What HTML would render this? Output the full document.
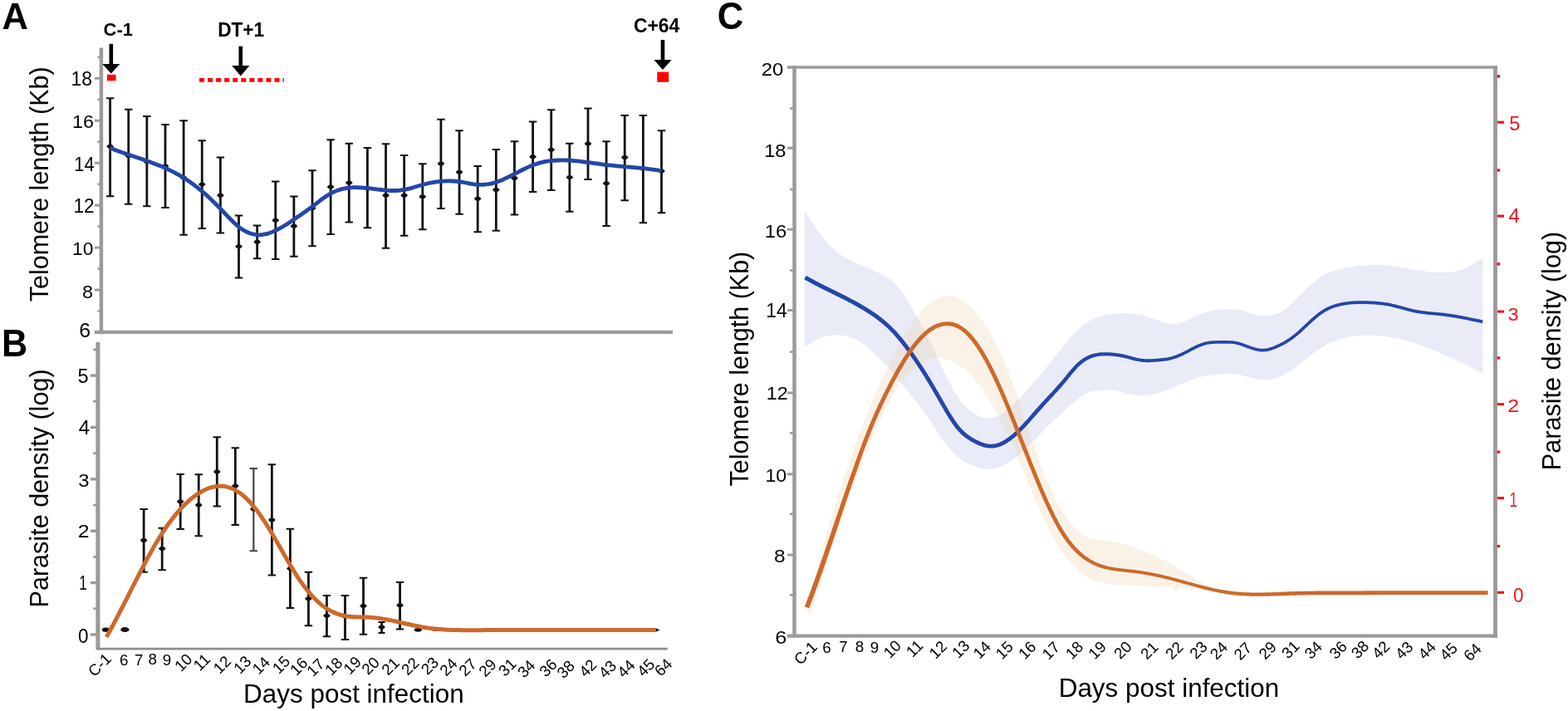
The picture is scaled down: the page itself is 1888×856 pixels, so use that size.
<!DOCTYPE html>
<html lang="en">
<head>
<meta charset="utf-8">
<title>Telomere length and parasite density</title>
<style>
html,body{margin:0;padding:0;background:#fff;}
body{width:1888px;height:856px;overflow:hidden;}
svg{display:block;}
text{font-family:"Liberation Sans",Arial,Helvetica,sans-serif;}
.b{font-weight:bold;}
.ax{stroke:#9a9a98;fill:none;}
.eb{stroke:#111;fill:none;}
</style>
</head>
<body>
<svg width="1888" height="856" viewBox="0 0 1888 856" role="img" aria-label="Telomere length and parasite density over days post infection">
<rect width="1888" height="856" fill="#fff"/>
<g id="panelA">
<path class="ax" stroke-width="4.5" d="M121.9 57.5V402.2"/>
<path class="ax" stroke-width="4.4" d="M114 399.9H810"/>
<path class="ax" stroke-width="3" d="M114 94.3H120"/>
<path class="ax" stroke-width="3" d="M114 145.25H120"/>
<path class="ax" stroke-width="3" d="M114 196.2H120"/>
<path class="ax" stroke-width="3" d="M114 247.15H120"/>
<path class="ax" stroke-width="3" d="M114 298.1H120"/>
<path class="ax" stroke-width="3" d="M114 349.05H120"/>
<path class="ax" stroke-width="2.5" d="M117.5 68.82H120"/>
<path class="ax" stroke-width="2.5" d="M117.5 119.77H120"/>
<path class="ax" stroke-width="2.5" d="M117.5 170.72H120"/>
<path class="ax" stroke-width="2.5" d="M117.5 221.68H120"/>
<path class="ax" stroke-width="2.5" d="M117.5 272.62H120"/>
<path class="ax" stroke-width="2.5" d="M117.5 323.57H120"/>
<path class="ax" stroke-width="2.5" d="M117.5 374.53H120"/>
<text transform="translate(85.58 103.37) scale(0.9920 1)" font-size="23.10">18</text>
<text transform="translate(87.05 154.27) scale(1.0156 1)" font-size="22.96">16</text>
<text transform="translate(89.37 206.40) scale(0.9168 1)" font-size="23.77">14</text>
<text transform="translate(88.39 255.90) scale(0.9766 1)" font-size="23.29">12</text>
<text transform="translate(87.09 306.67) scale(0.9993 1)" font-size="22.82">10</text>
<text transform="translate(98.95 358.87) scale(1.0194 1)" font-size="22.96">8</text>
<text transform="translate(95.35 405.76) scale(1.0480 1)" font-size="23.80">6</text>
<text transform="translate(57.72 363.21) rotate(-90) scale(0.9729 1)" font-size="31.34">Telomere length (Kb)</text>
<path class="eb" stroke-width="2.8" d="M132.6 118.25V236.25"/>
<path class="eb" stroke-width="2.2" d="M127.9 118.25h9.4M127.9 236.25h9.4"/>
<path d="M128.2 176.25l2.2 -2.3h4.4l2.2 2.3l-2.2 2.3h-4.4z" fill="#111"/>
<path class="eb" stroke-width="2.8" d="M154.73 131.75V245.75"/>
<path class="eb" stroke-width="2.2" d="M150.03 131.75h9.4M150.03 245.75h9.4"/>
<path d="M150.33 187.5l2.2 -2.3h4.4l2.2 2.3l-2.2 2.3h-4.4z" fill="#111"/>
<path class="eb" stroke-width="2.8" d="M176.86 140V248.25"/>
<path class="eb" stroke-width="2.2" d="M172.16 140h9.4M172.16 248.25h9.4"/>
<path d="M172.46 194.5l2.2 -2.3h4.4l2.2 2.3l-2.2 2.3h-4.4z" fill="#111"/>
<path class="eb" stroke-width="2.8" d="M198.99 150V250"/>
<path class="eb" stroke-width="2.2" d="M194.29 150h9.4M194.29 250h9.4"/>
<path d="M194.59 200l2.2 -2.3h4.4l2.2 2.3l-2.2 2.3h-4.4z" fill="#111"/>
<path class="eb" stroke-width="2.8" d="M221.12 145.25V282.75"/>
<path class="eb" stroke-width="2.2" d="M216.42 145.25h9.4M216.42 282.75h9.4"/>
<path d="M216.72 214l2.2 -2.3h4.4l2.2 2.3l-2.2 2.3h-4.4z" fill="#111"/>
<path class="eb" stroke-width="2.8" d="M243.25 169.25V275"/>
<path class="eb" stroke-width="2.2" d="M238.55 169.25h9.4M238.55 275h9.4"/>
<path d="M238.85 222l2.2 -2.3h4.4l2.2 2.3l-2.2 2.3h-4.4z" fill="#111"/>
<path class="eb" stroke-width="2.8" d="M265.38 189.5V280.5"/>
<path class="eb" stroke-width="2.2" d="M260.68 189.5h9.4M260.68 280.5h9.4"/>
<path d="M260.98 235.25l2.2 -2.3h4.4l2.2 2.3l-2.2 2.3h-4.4z" fill="#111"/>
<path class="eb" stroke-width="2.8" d="M287.51 259.5V334.5"/>
<path class="eb" stroke-width="2.2" d="M282.81 259.5h9.4M282.81 334.5h9.4"/>
<path d="M283.11 296.75l2.2 -2.3h4.4l2.2 2.3l-2.2 2.3h-4.4z" fill="#111"/>
<path class="eb" stroke-width="2.8" d="M309.64 271.5V311.25"/>
<path class="eb" stroke-width="2.2" d="M304.94 271.5h9.4M304.94 311.25h9.4"/>
<path d="M305.24 291.25l2.2 -2.3h4.4l2.2 2.3l-2.2 2.3h-4.4z" fill="#111"/>
<path class="eb" stroke-width="2.8" d="M331.77 218.5V312"/>
<path class="eb" stroke-width="2.2" d="M327.07 218.5h9.4M327.07 312h9.4"/>
<path d="M327.37 265.25l2.2 -2.3h4.4l2.2 2.3l-2.2 2.3h-4.4z" fill="#111"/>
<path class="eb" stroke-width="2.8" d="M353.9 236.5V308.75"/>
<path class="eb" stroke-width="2.2" d="M349.2 236.5h9.4M349.2 308.75h9.4"/>
<path d="M349.5 272.25l2.2 -2.3h4.4l2.2 2.3l-2.2 2.3h-4.4z" fill="#111"/>
<path class="eb" stroke-width="2.8" d="M376.03 205.25V296.25"/>
<path class="eb" stroke-width="2.2" d="M371.33 205.25h9.4M371.33 296.25h9.4"/>
<path d="M371.63 250.6l2.2 -2.3h4.4l2.2 2.3l-2.2 2.3h-4.4z" fill="#111"/>
<path class="eb" stroke-width="2.8" d="M398.16 168.25V282"/>
<path class="eb" stroke-width="2.2" d="M393.46 168.25h9.4M393.46 282h9.4"/>
<path d="M393.76 225l2.2 -2.3h4.4l2.2 2.3l-2.2 2.3h-4.4z" fill="#111"/>
<path class="eb" stroke-width="2.8" d="M420.29 172.75V267.5"/>
<path class="eb" stroke-width="2.2" d="M415.59 172.75h9.4M415.59 267.5h9.4"/>
<path d="M415.89 220l2.2 -2.3h4.4l2.2 2.3l-2.2 2.3h-4.4z" fill="#111"/>
<path class="eb" stroke-width="2.8" d="M442.42 178V274.25"/>
<path class="eb" stroke-width="2.2" d="M437.72 178h9.4M437.72 274.25h9.4"/>
<path d="M438.02 227l2.2 -2.3h4.4l2.2 2.3l-2.2 2.3h-4.4z" fill="#111"/>
<path class="eb" stroke-width="2.8" d="M464.55 173.25V298.75"/>
<path class="eb" stroke-width="2.2" d="M459.85 173.25h9.4M459.85 298.75h9.4"/>
<path d="M460.15 235.25l2.2 -2.3h4.4l2.2 2.3l-2.2 2.3h-4.4z" fill="#111"/>
<path class="eb" stroke-width="2.8" d="M486.68 187V283.75"/>
<path class="eb" stroke-width="2.2" d="M481.98 187h9.4M481.98 283.75h9.4"/>
<path d="M482.28 235.25l2.2 -2.3h4.4l2.2 2.3l-2.2 2.3h-4.4z" fill="#111"/>
<path class="eb" stroke-width="2.8" d="M508.81 197.25V276.25"/>
<path class="eb" stroke-width="2.2" d="M504.11 197.25h9.4M504.11 276.25h9.4"/>
<path d="M504.41 236.75l2.2 -2.3h4.4l2.2 2.3l-2.2 2.3h-4.4z" fill="#111"/>
<path class="eb" stroke-width="2.8" d="M530.94 143.75V251"/>
<path class="eb" stroke-width="2.2" d="M526.24 143.75h9.4M526.24 251h9.4"/>
<path d="M526.54 197l2.2 -2.3h4.4l2.2 2.3l-2.2 2.3h-4.4z" fill="#111"/>
<path class="eb" stroke-width="2.8" d="M553.07 157.25V257.75"/>
<path class="eb" stroke-width="2.2" d="M548.37 157.25h9.4M548.37 257.75h9.4"/>
<path d="M548.67 207.25l2.2 -2.3h4.4l2.2 2.3l-2.2 2.3h-4.4z" fill="#111"/>
<path class="eb" stroke-width="2.8" d="M575.2 200V279.25"/>
<path class="eb" stroke-width="2.2" d="M570.5 200h9.4M570.5 279.25h9.4"/>
<path d="M570.8 239.25l2.2 -2.3h4.4l2.2 2.3l-2.2 2.3h-4.4z" fill="#111"/>
<path class="eb" stroke-width="2.8" d="M597.33 180V277.75"/>
<path class="eb" stroke-width="2.2" d="M592.63 180h9.4M592.63 277.75h9.4"/>
<path d="M592.93 228.5l2.2 -2.3h4.4l2.2 2.3l-2.2 2.3h-4.4z" fill="#111"/>
<path class="eb" stroke-width="2.8" d="M619.46 170.25V258.5"/>
<path class="eb" stroke-width="2.2" d="M614.76 170.25h9.4M614.76 258.5h9.4"/>
<path d="M615.06 214.5l2.2 -2.3h4.4l2.2 2.3l-2.2 2.3h-4.4z" fill="#111"/>
<path class="eb" stroke-width="2.8" d="M641.59 146.5V231"/>
<path class="eb" stroke-width="2.2" d="M636.89 146.5h9.4M636.89 231h9.4"/>
<path d="M637.19 188.75l2.2 -2.3h4.4l2.2 2.3l-2.2 2.3h-4.4z" fill="#111"/>
<path class="eb" stroke-width="2.8" d="M663.72 132.25V229"/>
<path class="eb" stroke-width="2.2" d="M659.02 132.25h9.4M659.02 229h9.4"/>
<path d="M659.32 180.25l2.2 -2.3h4.4l2.2 2.3l-2.2 2.3h-4.4z" fill="#111"/>
<path class="eb" stroke-width="2.8" d="M685.85 172.75V254.75"/>
<path class="eb" stroke-width="2.2" d="M681.15 172.75h9.4M681.15 254.75h9.4"/>
<path d="M681.45 213.5l2.2 -2.3h4.4l2.2 2.3l-2.2 2.3h-4.4z" fill="#111"/>
<path class="eb" stroke-width="2.8" d="M707.98 130.5V216"/>
<path class="eb" stroke-width="2.2" d="M703.28 130.5h9.4M703.28 216h9.4"/>
<path d="M703.58 173l2.2 -2.3h4.4l2.2 2.3l-2.2 2.3h-4.4z" fill="#111"/>
<path class="eb" stroke-width="2.8" d="M730.11 170.25V272"/>
<path class="eb" stroke-width="2.2" d="M725.41 170.25h9.4M725.41 272h9.4"/>
<path d="M725.71 220.75l2.2 -2.3h4.4l2.2 2.3l-2.2 2.3h-4.4z" fill="#111"/>
<path class="eb" stroke-width="2.8" d="M752.24 139V241.25"/>
<path class="eb" stroke-width="2.2" d="M747.54 139h9.4M747.54 241.25h9.4"/>
<path d="M747.84 189.5l2.2 -2.3h4.4l2.2 2.3l-2.2 2.3h-4.4z" fill="#111"/>
<path class="eb" stroke-width="2.8" d="M774.37 139V268.25"/>
<path class="eb" stroke-width="2.2" d="M769.67 139h9.4M769.67 268.25h9.4"/>
<path d="M769.97 203l2.2 -2.3h4.4l2.2 2.3l-2.2 2.3h-4.4z" fill="#111"/>
<path class="eb" stroke-width="2.8" d="M796.5 157.25V256.25"/>
<path class="eb" stroke-width="2.2" d="M791.8 157.25h9.4M791.8 256.25h9.4"/>
<path d="M792.1 206l2.2 -2.3h4.4l2.2 2.3l-2.2 2.3h-4.4z" fill="#111"/>
<path d="M132.6 178C133.6 178.4 136.59 179.62 138.58 180.39C140.57 181.16 142.57 181.9 144.56 182.63C146.56 183.36 148.55 184.06 150.54 184.76C152.54 185.45 154.53 186.13 156.52 186.8C158.52 187.47 160.51 188.14 162.51 188.8C164.5 189.47 166.49 190.13 168.49 190.8C170.48 191.48 172.47 192.15 174.47 192.84C176.46 193.53 178.45 194.22 180.45 194.94C182.44 195.66 184.44 196.39 186.43 197.15C188.42 197.92 190.42 198.7 192.41 199.51C194.4 200.33 196.4 201.17 198.39 202.05C200.39 202.94 202.38 203.85 204.37 204.81C206.37 205.78 208.36 206.78 210.35 207.83C212.35 208.89 214.34 209.98 216.34 211.14C218.33 212.3 220.32 213.51 222.32 214.79C224.31 216.06 226.3 217.4 228.3 218.79C230.29 220.18 232.28 221.63 234.28 223.14C236.27 224.65 238.27 226.22 240.26 227.84C242.25 229.47 244.25 231.15 246.24 232.88C248.23 234.62 250.23 236.41 252.22 238.25C254.22 240.09 256.21 241.99 258.2 243.94C260.2 245.9 262.19 247.91 264.18 249.96C266.18 252.01 268.17 254.15 270.16 256.24C272.16 258.34 274.15 260.5 276.15 262.53C278.14 264.56 280.13 266.59 282.13 268.43C284.12 270.27 286.11 272.02 288.11 273.55C290.1 275.08 292.1 276.43 294.09 277.59C296.08 278.75 298.08 279.72 300.07 280.49C302.06 281.26 304.06 281.84 306.05 282.23C308.05 282.61 310.04 282.79 312.03 282.79C314.03 282.79 316.02 282.58 318.01 282.24C320.01 281.89 322 281.36 323.99 280.72C325.99 280.08 327.98 279.28 329.98 278.4C331.97 277.52 333.96 276.5 335.96 275.43C337.95 274.36 339.94 273.18 341.94 271.97C343.93 270.76 345.93 269.47 347.92 268.17C349.91 266.88 351.91 265.54 353.9 264.2C355.89 262.87 357.89 261.53 359.88 260.18C361.87 258.82 363.87 257.46 365.86 256.07C367.86 254.68 369.85 253.27 371.84 251.81C373.84 250.36 375.83 248.86 377.82 247.35C379.82 245.83 381.81 244.25 383.81 242.73C385.8 241.22 387.79 239.68 389.79 238.28C391.78 236.87 393.77 235.49 395.77 234.29C397.76 233.09 399.75 232.01 401.75 231.08C403.74 230.15 405.74 229.38 407.73 228.72C409.72 228.05 411.72 227.53 413.71 227.1C415.7 226.67 417.7 226.37 419.69 226.13C421.69 225.9 423.68 225.78 425.67 225.71C427.67 225.64 429.66 225.67 431.65 225.73C433.65 225.79 435.64 225.93 437.64 226.08C439.63 226.24 441.62 226.45 443.62 226.67C445.61 226.89 447.6 227.14 449.6 227.39C451.59 227.63 453.58 227.89 455.58 228.13C457.57 228.36 459.57 228.6 461.56 228.8C463.55 228.99 465.55 229.17 467.54 229.28C469.53 229.4 471.53 229.48 473.52 229.49C475.52 229.49 477.51 229.45 479.5 229.31C481.5 229.17 483.49 228.96 485.48 228.65C487.48 228.34 489.47 227.91 491.46 227.43C493.46 226.96 495.45 226.38 497.45 225.8C499.44 225.23 501.43 224.59 503.43 224C505.42 223.4 507.41 222.79 509.41 222.25C511.4 221.7 513.4 221.2 515.39 220.74C517.38 220.29 519.38 219.89 521.37 219.53C523.36 219.18 525.36 218.88 527.35 218.63C529.35 218.39 531.34 218.19 533.33 218.06C535.33 217.93 537.32 217.85 539.31 217.84C541.31 217.82 543.3 217.87 545.29 217.98C547.29 218.09 549.28 218.26 551.28 218.5C553.27 218.74 555.26 219.07 557.26 219.41C559.25 219.75 561.24 220.17 563.24 220.52C565.23 220.88 567.23 221.28 569.22 221.56C571.21 221.85 573.21 222.11 575.2 222.23C577.19 222.36 579.19 222.39 581.18 222.31C583.17 222.23 585.17 222.04 587.16 221.75C589.16 221.46 591.15 221.06 593.14 220.56C595.14 220.07 597.13 219.46 599.12 218.77C601.12 218.08 603.11 217.28 605.11 216.43C607.1 215.58 609.09 214.64 611.09 213.68C613.08 212.72 615.07 211.7 617.07 210.68C619.06 209.66 621.05 208.6 623.05 207.57C625.04 206.54 627.04 205.49 629.03 204.5C631.02 203.51 633.02 202.52 635.01 201.62C637 200.72 639 199.85 640.99 199.09C642.99 198.32 644.98 197.63 646.97 197.02C648.97 196.4 650.96 195.88 652.95 195.41C654.95 194.95 656.94 194.57 658.94 194.24C660.93 193.91 662.92 193.66 664.92 193.45C666.91 193.25 668.9 193.1 670.9 193.01C672.89 192.91 674.88 192.87 676.88 192.87C678.87 192.87 680.87 192.91 682.86 192.99C684.85 193.07 686.85 193.19 688.84 193.34C690.83 193.48 692.83 193.67 694.82 193.87C696.82 194.06 698.81 194.29 700.8 194.53C702.8 194.77 704.79 195.04 706.78 195.3C708.78 195.57 710.77 195.85 712.76 196.13C714.76 196.41 716.75 196.69 718.75 196.97C720.74 197.25 722.73 197.53 724.73 197.79C726.72 198.05 728.71 198.31 730.71 198.55C732.7 198.78 734.7 199 736.69 199.21C738.68 199.42 740.68 199.62 742.67 199.8C744.66 199.99 746.66 200.17 748.65 200.34C750.65 200.52 752.64 200.69 754.63 200.86C756.63 201.03 758.62 201.2 760.61 201.37C762.61 201.55 764.6 201.72 766.59 201.9C768.59 202.09 770.58 202.28 772.58 202.48C774.57 202.69 776.56 202.9 778.56 203.14C780.55 203.37 782.54 203.61 784.54 203.88C786.53 204.15 788.53 204.43 790.52 204.74C792.51 205.06 795.5 205.58 796.5 205.75" fill="none" stroke="#2546a8" stroke-width="4.8" stroke-linejoin="round"/>
<path d="M133.8 52.8V79" stroke="#000" stroke-width="4.6" fill="none"/>
<path d="M123.2 77L144.4 77L133.8 88.4Z" fill="#000"/>
<path d="M289.8 55.6V81" stroke="#000" stroke-width="4.6" fill="none"/>
<path d="M279.2 79L300.4 79L289.8 91.5Z" fill="#000"/>
<path d="M798 48V74" stroke="#000" stroke-width="4.6" fill="none"/>
<path d="M787.4 72L808.6 72L798 84Z" fill="#000"/>
<text transform="translate(124.62 42.98) scale(0.9798 1)" font-size="22.39" class="b">C-1</text>
<text transform="translate(262.13 43.70) scale(0.9546 1)" font-size="23.77" class="b">DT+1</text>
<text transform="translate(762.88 38.97) scale(0.9817 1)" font-size="23.38" class="b">C+64</text>
<rect x="129" y="89.8" width="10.5" height="7.5" fill="#f00"/>
<rect x="791.3" y="86.6" width="13.8" height="12.2" fill="#f00"/>
<path d="M240 96.4H342" stroke="#f00" stroke-width="4.8" stroke-dasharray="6 4.06" fill="none"/>
<text transform="translate(2.41 34.60) scale(0.9636 1)" font-size="45.07" class="b">A</text>
</g>
<g id="panelB">
<path class="ax" stroke-width="5" d="M117.9 411.9V782.3"/>
<path stroke="#8e8e8c" fill="none" stroke-width="2.9" d="M116 781.1H803.8"/>
<path class="ax" stroke-width="3.4" d="M109 764H116.5"/>
<path class="ax" stroke-width="3.4" d="M109 701.62H116.5"/>
<path class="ax" stroke-width="3.4" d="M109 639.24H116.5"/>
<path class="ax" stroke-width="3.4" d="M109 576.86H116.5"/>
<path class="ax" stroke-width="3.4" d="M109 514.48H116.5"/>
<path class="ax" stroke-width="3.4" d="M109 452.1H116.5"/>
<path class="ax" stroke-width="2.8" d="M112.2 732.81H116.5"/>
<path class="ax" stroke-width="2.8" d="M112.2 670.43H116.5"/>
<path class="ax" stroke-width="2.8" d="M112.2 608.05H116.5"/>
<path class="ax" stroke-width="2.8" d="M112.2 545.67H116.5"/>
<path class="ax" stroke-width="2.8" d="M112.2 483.29H116.5"/>
<path class="ax" stroke-width="2.8" d="M112.2 420.91H116.5"/>
<text transform="translate(93.46 461.27) scale(1.0126 1)" font-size="23.29">5</text>
<text transform="translate(94.82 523.20) scale(1.0227 1)" font-size="23.62">4</text>
<text transform="translate(94.35 585.57) scale(1.0362 1)" font-size="22.96">3</text>
<text transform="translate(93.86 647.00) scale(1.1003 1)" font-size="22.57">2</text>
<text transform="translate(95.31 710.40) scale(0.7435 1)" font-size="23.19">1</text>
<text transform="translate(94.10 774.27) scale(0.9623 1)" font-size="23.38">0</text>
<text transform="translate(58.18 731.45) rotate(-90) scale(0.9560 1)" font-size="31.98">Parasite density (log)</text>
<path stroke="#111" fill="none" stroke-width="2.8" d="M173.16 613V688.75"/>
<path stroke="#111" fill="none" stroke-width="2.2" d="M168.46 613h9.4M168.46 688.75h9.4"/>
<path d="M168.76 650.5l2.2 -2.3h4.4l2.2 2.3l-2.2 2.3h-4.4z" fill="#111"/>
<path stroke="#111" fill="none" stroke-width="2.8" d="M195.19 635.75V686.25"/>
<path stroke="#111" fill="none" stroke-width="2.2" d="M190.49 635.75h9.4M190.49 686.25h9.4"/>
<path d="M190.79 660.5l2.2 -2.3h4.4l2.2 2.3l-2.2 2.3h-4.4z" fill="#111"/>
<path stroke="#111" fill="none" stroke-width="2.8" d="M217.22 571V637"/>
<path stroke="#111" fill="none" stroke-width="2.2" d="M212.52 571h9.4M212.52 637h9.4"/>
<path d="M212.82 603.75l2.2 -2.3h4.4l2.2 2.3l-2.2 2.3h-4.4z" fill="#111"/>
<path stroke="#111" fill="none" stroke-width="2.8" d="M239.25 571.25V645.25"/>
<path stroke="#111" fill="none" stroke-width="2.2" d="M234.55 571.25h9.4M234.55 645.25h9.4"/>
<path d="M234.85 608l2.2 -2.3h4.4l2.2 2.3l-2.2 2.3h-4.4z" fill="#111"/>
<path stroke="#111" fill="none" stroke-width="2.8" d="M261.28 526.25V609.5"/>
<path stroke="#111" fill="none" stroke-width="2.2" d="M256.58 526.25h9.4M256.58 609.5h9.4"/>
<path d="M256.88 568l2.2 -2.3h4.4l2.2 2.3l-2.2 2.3h-4.4z" fill="#111"/>
<path stroke="#111" fill="none" stroke-width="2.8" d="M283.31 539.25V632"/>
<path stroke="#111" fill="none" stroke-width="2.2" d="M278.61 539.25h9.4M278.61 632h9.4"/>
<path d="M278.91 585l2.2 -2.3h4.4l2.2 2.3l-2.2 2.3h-4.4z" fill="#111"/>
<path stroke="#444" fill="none" stroke-width="2.2" d="M305.34 564V663.25"/>
<path stroke="#444" fill="none" stroke-width="2.2" d="M300.64 564h9.4M300.64 663.25h9.4"/>
<path d="M300.94 613l2.2 -2.3h4.4l2.2 2.3l-2.2 2.3h-4.4z" fill="#111"/>
<path stroke="#111" fill="none" stroke-width="2.8" d="M327.37 559.25V692.5"/>
<path stroke="#111" fill="none" stroke-width="2.2" d="M322.67 559.25h9.4M322.67 692.5h9.4"/>
<path d="M322.97 626l2.2 -2.3h4.4l2.2 2.3l-2.2 2.3h-4.4z" fill="#111"/>
<path stroke="#111" fill="none" stroke-width="2.8" d="M349.4 636.75V732"/>
<path stroke="#111" fill="none" stroke-width="2.2" d="M344.7 636.75h9.4M344.7 732h9.4"/>
<path d="M345 684.5l2.2 -2.3h4.4l2.2 2.3l-2.2 2.3h-4.4z" fill="#111"/>
<path stroke="#111" fill="none" stroke-width="2.8" d="M371.43 688.75V753.25"/>
<path stroke="#111" fill="none" stroke-width="2.2" d="M366.73 688.75h9.4M366.73 753.25h9.4"/>
<path d="M367.03 720.75l2.2 -2.3h4.4l2.2 2.3l-2.2 2.3h-4.4z" fill="#111"/>
<path stroke="#111" fill="none" stroke-width="2.8" d="M393.46 717V766.25"/>
<path stroke="#111" fill="none" stroke-width="2.2" d="M388.76 717h9.4M388.76 766.25h9.4"/>
<path d="M389.06 741.25l2.2 -2.3h4.4l2.2 2.3l-2.2 2.3h-4.4z" fill="#111"/>
<path stroke="#111" fill="none" stroke-width="2.8" d="M415.49 717V770"/>
<path stroke="#111" fill="none" stroke-width="2.2" d="M410.79 717h9.4M410.79 770h9.4"/>
<path d="M411.09 742l2.2 -2.3h4.4l2.2 2.3l-2.2 2.3h-4.4z" fill="#111"/>
<path stroke="#111" fill="none" stroke-width="2.8" d="M437.52 695.75V763.75"/>
<path stroke="#111" fill="none" stroke-width="2.2" d="M432.82 695.75h9.4M432.82 763.75h9.4"/>
<path d="M433.12 729.5l2.2 -2.3h4.4l2.2 2.3l-2.2 2.3h-4.4z" fill="#111"/>
<path stroke="#111" fill="none" stroke-width="2.8" d="M459.55 749V762"/>
<path stroke="#111" fill="none" stroke-width="2.2" d="M455.55 749h8M455.55 762h8"/>
<path d="M455.15 755l2.2 -2.3h4.4l2.2 2.3l-2.2 2.3h-4.4z" fill="#111"/>
<path stroke="#111" fill="none" stroke-width="2.8" d="M481.58 701V757.5"/>
<path stroke="#111" fill="none" stroke-width="2.2" d="M476.88 701h9.4M476.88 757.5h9.4"/>
<path d="M477.18 728.75l2.2 -2.3h4.4l2.2 2.3l-2.2 2.3h-4.4z" fill="#111"/>
<ellipse cx="127.5" cy="758.2" rx="4.6" ry="2.6" fill="#111"/>
<ellipse cx="150.4" cy="758" rx="5.2" ry="3" fill="#111"/>
<ellipse cx="503.3" cy="758.3" rx="4.5" ry="2.4" fill="#111"/>
<path d="M521 759H530" stroke="#333" stroke-width="1.6"/>
<path d="M788.5 755.8L794.5 758.5L788.5 761.2Z" fill="#111"/>
<path d="M128.2 767C129.21 765.17 132.22 759.77 134.23 756.05C136.24 752.33 138.25 748.52 140.27 744.68C142.28 740.84 144.29 736.93 146.3 733C148.31 729.08 150.32 725.11 152.33 721.15C154.34 717.18 156.35 713.19 158.36 709.23C160.38 705.26 162.39 701.29 164.4 697.36C166.41 693.43 168.42 689.51 170.43 685.67C172.44 681.82 174.45 678 176.46 674.26C178.47 670.53 180.49 666.85 182.5 663.28C184.51 659.7 186.52 656.2 188.53 652.82C190.54 649.44 192.55 646.15 194.56 643.01C196.57 639.86 198.58 636.84 200.6 633.95C202.61 631.06 204.62 628.3 206.63 625.66C208.64 623.03 210.65 620.52 212.66 618.14C214.67 615.76 216.68 613.5 218.69 611.37C220.71 609.24 222.72 607.23 224.73 605.34C226.74 603.46 228.75 601.7 230.76 600.06C232.77 598.42 234.78 596.9 236.79 595.51C238.8 594.12 240.81 592.85 242.83 591.73C244.84 590.61 246.85 589.61 248.86 588.77C250.87 587.93 252.88 587.23 254.89 586.68C256.9 586.14 258.91 585.74 260.92 585.52C262.94 585.29 264.95 585.21 266.96 585.32C268.97 585.42 270.98 585.69 272.99 586.14C275 586.6 277.01 587.22 279.02 588.04C281.03 588.86 283.05 589.87 285.06 591.07C287.07 592.27 289.08 593.67 291.09 595.26C293.1 596.85 295.11 598.63 297.12 600.6C299.13 602.57 301.14 604.74 303.16 607.07C305.17 609.39 307.18 611.91 309.19 614.56C311.2 617.2 313.21 620.02 315.22 622.95C317.23 625.88 319.24 628.95 321.25 632.12C323.27 635.28 325.28 638.58 327.29 641.93C329.3 645.29 331.31 648.77 333.32 652.25C335.33 655.73 337.34 659.3 339.35 662.82C341.36 666.34 343.37 669.9 345.39 673.37C347.4 676.83 349.41 680.29 351.42 683.61C353.43 686.92 355.44 690.18 357.45 693.26C359.46 696.34 361.47 699.3 363.48 702.11C365.5 704.92 367.51 707.58 369.52 710.1C371.53 712.61 373.54 714.98 375.55 717.19C377.56 719.41 379.57 721.47 381.58 723.37C383.59 725.27 385.61 727.02 387.62 728.6C389.63 730.19 391.64 731.61 393.65 732.89C395.66 734.17 397.67 735.3 399.68 736.3C401.69 737.3 403.7 738.16 405.72 738.9C407.73 739.64 409.74 740.25 411.75 740.76C413.76 741.26 415.77 741.64 417.78 741.94C419.79 742.25 421.8 742.43 423.81 742.58C425.83 742.73 427.84 742.79 429.85 742.85C431.86 742.91 433.87 742.91 435.88 742.95C437.89 742.98 439.9 742.99 441.91 743.07C443.92 743.14 445.93 743.24 447.95 743.4C449.96 743.56 451.97 743.77 453.98 744.02C455.99 744.27 458 744.56 460.01 744.88C462.02 745.2 464.03 745.57 466.04 745.94C468.06 746.32 470.07 746.73 472.08 747.15C474.09 747.57 476.1 748.02 478.11 748.47C480.12 748.91 482.13 749.38 484.14 749.84C486.15 750.29 488.17 750.76 490.18 751.21C492.19 751.66 494.2 752.12 496.21 752.55C498.22 752.98 500.23 753.41 502.24 753.8C504.25 754.2 506.26 754.58 508.28 754.92C510.29 755.27 512.3 755.58 514.31 755.87C516.32 756.16 518.33 756.42 520.34 756.65C522.35 756.89 524.36 757.09 526.37 757.28C528.39 757.47 530.4 757.63 532.41 757.77C534.42 757.92 536.43 758.04 538.44 758.15C540.45 758.25 542.46 758.34 544.47 758.41C546.48 758.49 548.49 758.55 550.51 758.59C552.52 758.64 554.53 758.67 556.54 758.69C558.55 758.72 560.56 758.73 562.57 758.74C564.58 758.74 566.59 758.74 568.6 758.73C570.62 758.73 572.63 758.72 574.64 758.7C576.65 758.69 578.66 758.67 580.67 758.66C582.68 758.64 584.69 758.62 586.7 758.61C588.71 758.59 590.73 758.57 592.74 758.55C594.75 758.54 596.76 758.52 598.77 758.5C600.78 758.49 602.79 758.47 604.8 758.46C606.81 758.44 608.82 758.43 610.84 758.42C612.85 758.41 612.01 758.38 616.87 758.4C621.73 758.41 622.81 758.48 640 758.5C657.19 758.52 695 758.5 720 758.5C745 758.5 778.33 758.5 790 758.5" fill="none" stroke="#cd692b" stroke-width="5" stroke-linejoin="round"/>
<text transform="translate(119.90 800.50) rotate(-45) scale(1.0000 1) translate(-15.18 6.49)" font-size="18.80">C-1</text>
<text transform="translate(149.25 794.30) rotate(0) scale(1.0000 1) translate(-5.31 6.49)" font-size="18.80">6</text>
<text transform="translate(167.30 794.10) rotate(0) scale(1.0000 1) translate(-5.22 6.49)" font-size="18.80">7</text>
<text transform="translate(183.70 793.70) rotate(0) scale(1.0000 1) translate(-5.26 6.49)" font-size="18.80">8</text>
<text transform="translate(201.00 794.20) rotate(0) scale(1.0000 1) translate(-5.22 6.49)" font-size="18.80">9</text>
<text transform="translate(220.95 797.30) rotate(-45) scale(1.0000 1) translate(-10.81 6.49)" font-size="18.80">10</text>
<text transform="translate(243.00 797.00) rotate(-45) scale(1.0000 1) translate(-10.01 6.49)" font-size="18.80">11</text>
<text transform="translate(267.50 800.00) rotate(-45) scale(1.0000 1) translate(-10.67 6.58)" font-size="18.80">12</text>
<text transform="translate(292.00 800.00) rotate(-45) scale(1.0000 1) translate(-10.76 6.49)" font-size="18.80">13</text>
<text transform="translate(314.50 800.75) rotate(-45) scale(1.0000 1) translate(-10.86 6.49)" font-size="18.80">14</text>
<text transform="translate(338.75 800.00) rotate(-45) scale(1.0000 1) translate(-10.76 6.39)" font-size="18.80">15</text>
<text transform="translate(360.00 802.00) rotate(-45) scale(1.0000 1) translate(-10.76 6.49)" font-size="18.80">16</text>
<text transform="translate(380.00 803.25) rotate(-45) scale(1.0000 1) translate(-10.67 6.49)" font-size="18.80">17</text>
<text transform="translate(402.00 802.00) rotate(-45) scale(1.0000 1) translate(-10.76 6.49)" font-size="18.80">18</text>
<text transform="translate(424.25 800.75) rotate(-45) scale(1.0000 1) translate(-10.72 6.49)" font-size="18.80">19</text>
<text transform="translate(446.25 801.50) rotate(-45) scale(1.0000 1) translate(-10.58 6.49)" font-size="18.80">20</text>
<text transform="translate(470.00 802.00) rotate(-45) scale(1.0000 1) translate(-10.48 6.58)" font-size="18.80">21</text>
<text transform="translate(493.75 802.00) rotate(-45) scale(1.0000 1) translate(-10.43 6.58)" font-size="18.80">22</text>
<text transform="translate(517.50 801.50) rotate(-45) scale(1.0000 1) translate(-10.53 6.49)" font-size="18.80">23</text>
<text transform="translate(540.00 802.75) rotate(-45) scale(1.0000 1) translate(-10.62 6.58)" font-size="18.80">24</text>
<text transform="translate(563.00 803.25) rotate(-45) scale(1.0000 1) translate(-10.43 6.58)" font-size="18.80">27</text>
<text transform="translate(587.00 804.00) rotate(-45) scale(1.0000 1) translate(-10.48 6.49)" font-size="18.80">29</text>
<text transform="translate(610.75 803.25) rotate(-45) scale(1.0000 1) translate(-10.39 6.49)" font-size="18.80">31</text>
<text transform="translate(633.75 805.00) rotate(-45) scale(1.0000 1) translate(-10.53 6.49)" font-size="18.80">34</text>
<text transform="translate(660.00 804.00) rotate(-45) scale(1.0000 1) translate(-10.43 6.49)" font-size="18.80">36</text>
<text transform="translate(681.25 805.75) rotate(-45) scale(1.0000 1) translate(-10.43 6.49)" font-size="18.80">38</text>
<text transform="translate(707.50 804.50) rotate(-45) scale(1.0000 1) translate(-10.15 6.58)" font-size="18.80">42</text>
<text transform="translate(731.25 805.75) rotate(-45) scale(1.0000 1) translate(-10.25 6.49)" font-size="18.80">43</text>
<text transform="translate(753.75 805.00) rotate(-45) scale(1.0000 1) translate(-10.34 6.49)" font-size="18.80">44</text>
<text transform="translate(777.50 804.00) rotate(-45) scale(1.0000 1) translate(-10.25 6.39)" font-size="18.80">45</text>
<text transform="translate(798.75 803.25) rotate(-45) scale(1.0000 1) translate(-10.62 6.49)" font-size="18.80">64</text>
<text transform="translate(293.08 846.18) scale(1.0282 1)" font-size="30.59">Days post infection</text>
<text transform="translate(2.10 429.00) scale(0.9444 1)" font-size="45.65" class="b">B</text>
</g>
<g id="panelC">
<path d="M968.8 253.1C969.64 254.45 972.14 258.56 973.81 261.22C975.48 263.87 977.15 266.48 978.82 269.01C980.49 271.54 982.16 274.01 983.83 276.39C985.5 278.77 987.17 281.09 988.84 283.29C990.51 285.49 992.18 287.61 993.85 289.61C995.52 291.61 997.19 293.52 998.86 295.29C1000.53 297.05 1002.2 298.71 1003.87 300.22C1005.54 301.73 1007.21 303.1 1008.88 304.37C1010.55 305.64 1012.22 306.76 1013.89 307.83C1015.56 308.9 1017.23 309.85 1018.9 310.77C1020.57 311.69 1022.24 312.51 1023.91 313.33C1025.58 314.15 1027.26 314.91 1028.93 315.68C1030.6 316.46 1032.27 317.21 1033.94 317.96C1035.61 318.72 1037.28 319.47 1038.95 320.22C1040.62 320.97 1042.29 321.71 1043.96 322.46C1045.63 323.2 1047.3 323.94 1048.97 324.68C1050.64 325.42 1052.31 326.16 1053.98 326.9C1055.65 327.64 1057.32 328.35 1058.99 329.12C1060.66 329.9 1062.33 330.65 1064 331.54C1065.67 332.43 1067.34 333.36 1069.01 334.47C1070.68 335.57 1072.35 336.76 1074.02 338.19C1075.69 339.61 1077.36 341.19 1079.03 343.02C1080.7 344.84 1082.37 346.92 1084.04 349.14C1085.71 351.37 1087.38 353.83 1089.05 356.37C1090.72 358.91 1092.39 361.64 1094.06 364.41C1095.73 367.17 1097.4 370.07 1099.07 372.96C1100.74 375.84 1102.41 378.8 1104.08 381.73C1105.75 384.65 1107.42 387.53 1109.09 390.51C1110.76 393.49 1112.43 396.44 1114.1 399.59C1115.77 402.75 1117.44 406.03 1119.11 409.44C1120.78 412.84 1122.45 416.44 1124.12 420.03C1125.79 423.63 1127.46 427.35 1129.13 431C1130.8 434.65 1132.47 438.35 1134.14 441.93C1135.81 445.51 1137.48 449.07 1139.15 452.47C1140.82 455.87 1142.49 459.2 1144.17 462.34C1145.84 465.49 1147.51 468.52 1149.18 471.34C1150.85 474.16 1152.52 476.81 1154.19 479.24C1155.86 481.66 1157.53 483.87 1159.2 485.89C1160.87 487.91 1162.54 489.72 1164.21 491.36C1165.88 492.99 1167.55 494.43 1169.22 495.71C1170.89 496.99 1172.56 498.09 1174.23 499.03C1175.9 499.98 1177.57 500.77 1179.24 501.41C1180.91 502.04 1182.58 502.52 1184.25 502.85C1185.92 503.18 1187.59 503.35 1189.26 503.38C1190.93 503.4 1192.6 503.27 1194.27 502.99C1195.94 502.72 1197.61 502.29 1199.28 501.71C1200.95 501.13 1202.62 500.41 1204.29 499.54C1205.96 498.66 1207.63 497.64 1209.3 496.48C1210.97 495.31 1212.64 493.99 1214.31 492.54C1215.98 491.09 1217.65 489.45 1219.32 487.77C1220.99 486.1 1222.66 484.26 1224.33 482.49C1226 480.72 1227.67 478.91 1229.34 477.14C1231.01 475.38 1232.68 473.64 1234.35 471.88C1236.02 470.12 1237.69 468.38 1239.36 466.58C1241.03 464.79 1242.7 462.99 1244.37 461.12C1246.04 459.25 1247.71 457.34 1249.38 455.38C1251.05 453.43 1252.72 451.42 1254.39 449.39C1256.06 447.36 1257.73 445.28 1259.4 443.2C1261.08 441.12 1262.75 439 1264.42 436.88C1266.09 434.77 1267.76 432.63 1269.43 430.5C1271.1 428.38 1272.77 426.24 1274.44 424.12C1276.11 422 1277.78 419.88 1279.45 417.8C1281.12 415.71 1282.79 413.63 1284.46 411.61C1286.13 409.6 1287.8 407.6 1289.47 405.71C1291.14 403.82 1292.81 401.97 1294.48 400.26C1296.15 398.54 1297.82 396.91 1299.49 395.42C1301.16 393.93 1302.83 392.57 1304.5 391.31C1306.17 390.06 1307.84 388.93 1309.51 387.89C1311.18 386.85 1312.85 385.93 1314.52 385.08C1316.19 384.24 1317.86 383.49 1319.53 382.82C1321.2 382.15 1322.87 381.56 1324.54 381.04C1326.21 380.52 1327.88 380.07 1329.55 379.67C1331.22 379.28 1332.89 378.95 1334.56 378.65C1336.23 378.36 1337.9 378.12 1339.57 377.91C1341.24 377.71 1342.91 377.55 1344.58 377.43C1346.25 377.31 1347.92 377.23 1349.59 377.19C1351.26 377.16 1352.93 377.16 1354.6 377.21C1356.27 377.25 1357.94 377.33 1359.61 377.46C1361.28 377.58 1362.95 377.75 1364.62 377.95C1366.29 378.15 1367.96 378.39 1369.63 378.67C1371.3 378.95 1372.97 379.27 1374.64 379.62C1376.31 379.98 1377.99 380.37 1379.66 380.8C1381.33 381.23 1383 381.7 1384.67 382.21C1386.34 382.72 1388.01 383.27 1389.68 383.86C1391.35 384.45 1393.02 385.12 1394.69 385.75C1396.36 386.38 1398.03 387.08 1399.7 387.64C1401.37 388.2 1403.04 388.73 1404.71 389.11C1406.38 389.49 1408.05 389.78 1409.72 389.93C1411.39 390.08 1413.06 390.12 1414.73 390.01C1416.4 389.91 1418.07 389.67 1419.74 389.28C1421.41 388.89 1423.08 388.33 1424.75 387.7C1426.42 387.07 1428.09 386.29 1429.76 385.51C1431.43 384.74 1433.1 383.86 1434.77 383.05C1436.44 382.23 1438.11 381.39 1439.78 380.63C1441.45 379.87 1443.12 379.15 1444.79 378.5C1446.46 377.84 1448.13 377.24 1449.8 376.69C1451.47 376.14 1453.14 375.65 1454.81 375.21C1456.48 374.78 1458.15 374.4 1459.82 374.08C1461.49 373.75 1463.16 373.48 1464.83 373.25C1466.5 373.02 1468.17 372.85 1469.84 372.7C1471.51 372.55 1473.18 372.45 1474.85 372.37C1476.52 372.28 1478.19 372.22 1479.86 372.21C1481.53 372.2 1483.2 372.21 1484.87 372.3C1486.54 372.39 1488.21 372.53 1489.88 372.77C1491.55 373 1493.22 373.31 1494.9 373.73C1496.57 374.14 1498.24 374.69 1499.91 375.23C1501.58 375.78 1503.25 376.43 1504.92 377C1506.59 377.57 1508.26 378.19 1509.93 378.66C1511.6 379.14 1513.27 379.57 1514.94 379.84C1516.61 380.12 1518.28 380.27 1519.95 380.32C1521.62 380.37 1523.29 380.3 1524.96 380.15C1526.63 380 1528.3 379.75 1529.97 379.42C1531.64 379.1 1533.31 378.71 1534.98 378.21C1536.65 377.71 1538.32 377.15 1539.99 376.42C1541.66 375.69 1543.33 374.87 1545 373.83C1546.67 372.79 1548.34 371.59 1550.01 370.2C1551.68 368.81 1553.35 367.13 1555.02 365.49C1556.69 363.85 1558.36 362.06 1560.03 360.38C1561.7 358.7 1563.37 357.05 1565.04 355.43C1566.71 353.8 1568.38 352.22 1570.05 350.65C1571.72 349.08 1573.39 347.54 1575.06 346.01C1576.73 344.48 1578.4 342.95 1580.07 341.48C1581.74 340.01 1583.41 338.53 1585.08 337.19C1586.75 335.84 1588.42 334.54 1590.09 333.41C1591.76 332.27 1593.43 331.27 1595.1 330.37C1596.77 329.47 1598.44 328.71 1600.11 328.02C1601.78 327.32 1603.45 326.74 1605.12 326.2C1606.79 325.66 1608.46 325.21 1610.13 324.77C1611.81 324.34 1613.48 323.97 1615.15 323.59C1616.82 323.22 1618.49 322.87 1620.16 322.54C1621.83 322.21 1623.5 321.9 1625.17 321.61C1626.84 321.32 1628.51 321.05 1630.18 320.8C1631.85 320.55 1633.52 320.32 1635.19 320.12C1636.86 319.92 1638.53 319.74 1640.2 319.58C1641.87 319.43 1643.54 319.3 1645.21 319.19C1646.88 319.09 1648.55 319.01 1650.22 318.96C1651.89 318.91 1653.56 318.88 1655.23 318.89C1656.9 318.89 1658.57 318.93 1660.24 318.99C1661.91 319.05 1663.58 319.15 1665.25 319.27C1666.92 319.39 1668.59 319.54 1670.26 319.71C1671.93 319.88 1673.6 320.07 1675.27 320.28C1676.94 320.49 1678.61 320.73 1680.28 320.97C1681.95 321.21 1683.62 321.47 1685.29 321.73C1686.96 322 1688.63 322.28 1690.3 322.56C1691.97 322.83 1693.64 323.12 1695.31 323.41C1696.98 323.69 1698.65 323.98 1700.32 324.26C1701.99 324.54 1703.66 324.82 1705.33 325.09C1707 325.36 1708.67 325.63 1710.34 325.87C1712.01 326.12 1713.68 326.36 1715.35 326.58C1717.02 326.8 1718.69 327 1720.36 327.18C1722.03 327.36 1723.7 327.52 1725.37 327.65C1727.04 327.78 1728.72 327.89 1730.39 327.97C1732.06 328.05 1733.73 328.1 1735.4 328.1C1737.07 328.11 1738.74 328.1 1740.41 328.03C1742.08 327.96 1743.75 327.85 1745.42 327.68C1747.09 327.51 1748.76 327.29 1750.43 326.99C1752.1 326.69 1753.77 326.34 1755.44 325.89C1757.11 325.45 1758.78 324.93 1760.45 324.31C1762.12 323.7 1763.79 322.98 1765.46 322.19C1767.13 321.4 1768.8 320.47 1770.47 319.55C1772.14 318.64 1773.81 317.63 1775.48 316.67C1777.15 315.72 1778.82 314.72 1780.49 313.82C1782.16 312.93 1784.66 311.72 1785.5 311.3L1785.5 449.8C1784.66 449.37 1782.16 448.08 1780.49 447.22C1778.82 446.36 1777.15 445.5 1775.48 444.65C1773.81 443.8 1772.14 442.95 1770.47 442.11C1768.8 441.26 1767.13 440.42 1765.46 439.59C1763.79 438.76 1762.12 437.93 1760.45 437.11C1758.78 436.29 1757.11 435.48 1755.44 434.67C1753.77 433.87 1752.1 433.07 1750.43 432.28C1748.76 431.49 1747.09 430.71 1745.42 429.94C1743.75 429.17 1742.08 428.41 1740.41 427.66C1738.74 426.91 1737.07 426.17 1735.4 425.45C1733.73 424.72 1732.06 424 1730.39 423.3C1728.72 422.6 1727.04 421.91 1725.37 421.24C1723.7 420.56 1722.03 419.9 1720.36 419.25C1718.69 418.61 1717.02 417.98 1715.35 417.36C1713.68 416.75 1712.01 416.15 1710.34 415.56C1708.67 414.98 1707 414.42 1705.33 413.87C1703.66 413.32 1701.99 412.79 1700.32 412.28C1698.65 411.77 1696.98 411.28 1695.31 410.81C1693.64 410.33 1691.97 409.88 1690.3 409.45C1688.63 409.02 1686.96 408.61 1685.29 408.22C1683.62 407.83 1681.95 407.47 1680.28 407.12C1678.61 406.78 1676.94 406.46 1675.27 406.16C1673.6 405.87 1671.93 405.6 1670.26 405.35C1668.59 405.1 1666.92 404.88 1665.25 404.68C1663.58 404.49 1661.91 404.32 1660.24 404.17C1658.57 404.03 1656.9 403.91 1655.23 403.83C1653.56 403.74 1651.89 403.68 1650.22 403.65C1648.55 403.61 1646.88 403.61 1645.21 403.64C1643.54 403.67 1641.87 403.73 1640.2 403.81C1638.53 403.9 1636.86 404.02 1635.19 404.18C1633.52 404.33 1631.85 404.51 1630.18 404.73C1628.51 404.95 1626.84 405.2 1625.17 405.5C1623.5 405.8 1621.83 406.13 1620.16 406.51C1618.49 406.89 1616.82 407.32 1615.15 407.8C1613.48 408.28 1611.81 408.8 1610.13 409.39C1608.46 409.97 1606.79 410.61 1605.12 411.31C1603.45 412.01 1601.78 412.77 1600.11 413.6C1598.44 414.43 1596.77 415.32 1595.1 416.28C1593.43 417.24 1591.76 418.28 1590.09 419.35C1588.42 420.43 1586.75 421.58 1585.08 422.75C1583.41 423.92 1581.74 425.14 1580.07 426.38C1578.4 427.62 1576.73 428.9 1575.06 430.18C1573.39 431.45 1571.72 432.76 1570.05 434.05C1568.38 435.34 1566.71 436.65 1565.04 437.93C1563.37 439.21 1561.7 440.49 1560.03 441.72C1558.36 442.96 1556.69 444.19 1555.02 445.35C1553.35 446.52 1551.68 447.66 1550.01 448.7C1548.34 449.75 1546.67 450.75 1545 451.63C1543.33 452.51 1541.66 453.31 1539.99 453.99C1538.32 454.67 1536.65 455.24 1534.98 455.71C1533.31 456.18 1531.64 456.54 1529.97 456.8C1528.3 457.06 1526.63 457.21 1524.96 457.27C1523.29 457.32 1521.62 457.26 1519.95 457.14C1518.28 457.01 1516.61 456.77 1514.94 456.5C1513.27 456.23 1511.6 455.87 1509.93 455.5C1508.26 455.13 1506.59 454.7 1504.92 454.28C1503.25 453.86 1501.58 453.41 1499.91 452.99C1498.24 452.57 1496.57 452.14 1494.9 451.78C1493.22 451.41 1491.55 451.05 1489.88 450.78C1488.21 450.51 1486.54 450.29 1484.87 450.15C1483.2 450.01 1481.53 449.97 1479.86 449.96C1478.19 449.96 1476.52 450.03 1474.85 450.12C1473.18 450.2 1471.51 450.35 1469.84 450.48C1468.17 450.62 1466.5 450.77 1464.83 450.93C1463.16 451.09 1461.49 451.24 1459.82 451.43C1458.15 451.62 1456.48 451.82 1454.81 452.07C1453.14 452.32 1451.47 452.6 1449.8 452.94C1448.13 453.28 1446.46 453.67 1444.79 454.12C1443.12 454.56 1441.45 455.07 1439.78 455.61C1438.11 456.14 1436.44 456.73 1434.77 457.34C1433.1 457.95 1431.43 458.6 1429.76 459.27C1428.09 459.93 1426.42 460.62 1424.75 461.32C1423.08 462.01 1421.41 462.73 1419.74 463.43C1418.07 464.14 1416.4 464.86 1414.73 465.56C1413.06 466.25 1411.39 466.95 1409.72 467.62C1408.05 468.29 1406.38 468.95 1404.71 469.58C1403.04 470.2 1401.37 470.81 1399.7 471.38C1398.03 471.94 1396.36 472.48 1394.69 472.97C1393.02 473.46 1391.35 473.91 1389.68 474.31C1388.01 474.7 1386.34 475.06 1384.67 475.35C1383 475.64 1381.33 475.88 1379.66 476.05C1377.99 476.22 1376.31 476.33 1374.64 476.36C1372.97 476.39 1371.3 476.36 1369.63 476.23C1367.96 476.11 1366.29 475.91 1364.62 475.63C1362.95 475.34 1361.28 474.94 1359.61 474.53C1357.94 474.12 1356.27 473.61 1354.6 473.14C1352.93 472.67 1351.26 472.16 1349.59 471.73C1347.92 471.3 1346.25 470.88 1344.58 470.57C1342.91 470.25 1341.24 470.01 1339.57 469.83C1337.9 469.65 1336.23 469.55 1334.56 469.49C1332.89 469.42 1331.22 469.43 1329.55 469.46C1327.88 469.49 1326.21 469.56 1324.54 469.68C1322.87 469.81 1321.2 469.95 1319.53 470.21C1317.86 470.47 1316.19 470.78 1314.52 471.24C1312.85 471.69 1311.18 472.24 1309.51 472.96C1307.84 473.68 1306.17 474.56 1304.5 475.57C1302.83 476.57 1301.16 477.75 1299.49 479C1297.82 480.25 1296.15 481.64 1294.48 483.07C1292.81 484.5 1291.14 486.04 1289.47 487.59C1287.8 489.13 1286.13 490.77 1284.46 492.34C1282.79 493.91 1281.12 495.5 1279.45 497.01C1277.78 498.52 1276.11 499.96 1274.44 501.41C1272.77 502.86 1271.1 504.25 1269.43 505.72C1267.76 507.18 1266.09 508.64 1264.42 510.2C1262.75 511.76 1261.08 513.4 1259.4 515.1C1257.73 516.8 1256.06 518.61 1254.39 520.4C1252.72 522.18 1251.05 524.03 1249.38 525.82C1247.71 527.6 1246.04 529.38 1244.37 531.1C1242.7 532.82 1241.03 534.49 1239.36 536.13C1237.69 537.76 1236.02 539.35 1234.35 540.9C1232.68 542.45 1231.01 543.96 1229.34 545.42C1227.67 546.88 1226 548.31 1224.33 549.65C1222.66 551 1220.99 552.3 1219.32 553.51C1217.65 554.72 1215.98 555.86 1214.31 556.91C1212.64 557.95 1210.97 558.92 1209.3 559.77C1207.63 560.61 1205.96 561.37 1204.29 562C1202.62 562.64 1200.95 563.15 1199.28 563.56C1197.61 563.97 1195.94 564.26 1194.27 564.45C1192.6 564.64 1190.93 564.72 1189.26 564.7C1187.59 564.69 1185.92 564.57 1184.25 564.36C1182.58 564.16 1180.91 563.85 1179.24 563.46C1177.57 563.07 1175.9 562.59 1174.23 562.03C1172.56 561.48 1170.89 560.84 1169.22 560.11C1167.55 559.38 1165.88 558.58 1164.21 557.66C1162.54 556.74 1160.87 555.74 1159.2 554.61C1157.53 553.49 1155.86 552.26 1154.19 550.9C1152.52 549.54 1150.85 548.07 1149.18 546.45C1147.51 544.83 1145.84 543.09 1144.17 541.18C1142.49 539.28 1140.82 537.23 1139.15 535.04C1137.48 532.85 1135.81 530.48 1134.14 528.06C1132.47 525.63 1130.8 523.06 1129.13 520.51C1127.46 517.96 1125.79 515.31 1124.12 512.73C1122.45 510.15 1120.78 507.54 1119.11 505.05C1117.44 502.56 1115.77 500.11 1114.1 497.78C1112.43 495.44 1110.76 493.22 1109.09 491.04C1107.42 488.85 1105.75 486.76 1104.08 484.67C1102.41 482.58 1100.74 480.55 1099.07 478.5C1097.4 476.45 1095.73 474.42 1094.06 472.37C1092.39 470.33 1090.72 468.27 1089.05 466.23C1087.38 464.19 1085.71 462.15 1084.04 460.12C1082.37 458.1 1080.7 456.08 1079.03 454.08C1077.36 452.09 1075.69 450.1 1074.02 448.15C1072.35 446.2 1070.68 444.26 1069.01 442.37C1067.34 440.48 1065.67 438.62 1064 436.81C1062.33 434.99 1060.66 433.22 1058.99 431.5C1057.32 429.78 1055.65 428.11 1053.98 426.5C1052.31 424.9 1050.64 423.35 1048.97 421.88C1047.3 420.4 1045.63 418.99 1043.96 417.67C1042.29 416.34 1040.62 415.08 1038.95 413.92C1037.28 412.76 1035.61 411.68 1033.94 410.7C1032.27 409.72 1030.6 408.84 1028.93 408.06C1027.26 407.27 1025.58 406.59 1023.91 406.01C1022.24 405.43 1020.57 404.95 1018.9 404.56C1017.23 404.17 1015.56 403.87 1013.89 403.67C1012.22 403.46 1010.55 403.35 1008.88 403.33C1007.21 403.3 1005.54 403.37 1003.87 403.51C1002.2 403.66 1000.53 403.89 998.86 404.2C997.19 404.51 995.52 404.9 993.85 405.37C992.18 405.83 990.51 406.38 988.84 407C987.17 407.61 985.5 408.31 983.83 409.06C982.16 409.82 980.49 410.66 978.82 411.55C977.15 412.45 975.48 413.41 973.81 414.44C972.14 415.46 969.64 417.15 968.8 417.7Z" fill="#e9ecf6"/>
<path d="M970.5 731C971.5 727.47 974.48 716.88 976.47 709.79C978.46 702.7 980.45 695.56 982.44 688.46C984.43 681.36 986.42 674.24 988.41 667.2C990.4 660.16 992.39 653.13 994.39 646.2C996.38 639.28 998.37 632.4 1000.36 625.66C1002.35 618.91 1004.34 612.25 1006.33 605.75C1008.32 599.25 1010.31 592.88 1012.3 586.66C1014.29 580.45 1016.28 574.4 1018.27 568.47C1020.26 562.55 1022.25 556.78 1024.24 551.13C1026.23 545.48 1028.22 539.96 1030.21 534.56C1032.2 529.16 1034.19 523.9 1036.18 518.73C1038.17 513.56 1040.16 508.51 1042.16 503.56C1044.15 498.61 1046.14 493.76 1048.13 489C1050.12 484.24 1052.11 479.58 1054.1 475C1056.09 470.41 1058.08 465.91 1060.07 461.48C1062.06 457.05 1064.05 452.69 1066.04 448.43C1068.03 444.16 1070.02 439.97 1072.01 435.9C1074 431.82 1075.99 427.84 1077.98 423.98C1079.97 420.13 1081.96 416.37 1083.95 412.77C1085.94 409.16 1087.93 405.67 1089.93 402.34C1091.92 399.01 1093.91 395.82 1095.9 392.79C1097.89 389.77 1099.88 386.9 1101.87 384.21C1103.86 381.53 1105.85 379.01 1107.84 376.68C1109.83 374.36 1111.82 372.22 1113.81 370.28C1115.8 368.34 1117.79 366.59 1119.78 365.04C1121.77 363.49 1123.76 362.13 1125.75 360.98C1127.74 359.83 1129.73 358.88 1131.72 358.14C1133.71 357.4 1135.7 356.86 1137.7 356.53C1139.69 356.21 1141.68 356.09 1143.67 356.2C1145.66 356.3 1147.65 356.62 1149.64 357.16C1151.63 357.7 1153.62 358.46 1155.61 359.44C1157.6 360.43 1159.59 361.64 1161.58 363.06C1163.57 364.48 1165.56 366.12 1167.55 367.98C1169.54 369.83 1171.53 371.9 1173.52 374.17C1175.51 376.44 1177.5 378.93 1179.49 381.61C1181.48 384.29 1183.48 387.18 1185.47 390.27C1187.46 393.36 1189.45 396.65 1191.44 400.12C1193.43 403.6 1195.42 407.28 1197.41 411.14C1199.4 415 1201.39 419.06 1203.38 423.3C1205.37 427.53 1207.36 431.96 1209.35 436.58C1211.34 441.19 1213.33 445.99 1215.32 450.99C1217.31 455.98 1219.3 461.16 1221.29 466.53C1223.28 471.91 1225.27 477.47 1227.26 483.22C1229.25 488.97 1231.25 494.98 1233.24 501.02C1235.23 507.06 1237.22 513.33 1239.21 519.44C1241.2 525.55 1243.19 531.77 1245.18 537.69C1247.17 543.61 1249.16 549.47 1251.15 554.97C1253.14 560.47 1255.13 565.71 1257.12 570.69C1259.11 575.66 1261.1 580.36 1263.09 584.82C1265.08 589.27 1267.07 593.47 1269.06 597.43C1271.05 601.39 1273.04 605.1 1275.03 608.59C1277.02 612.09 1279.02 615.34 1281.01 618.39C1283 621.44 1284.99 624.26 1286.98 626.88C1288.97 629.51 1290.96 631.93 1292.95 634.15C1294.94 636.37 1296.93 638.41 1298.92 640.19C1300.91 641.96 1302.9 643.53 1304.89 644.79C1306.88 646.05 1308.87 647.01 1310.86 647.73C1312.85 648.45 1314.84 648.75 1316.83 649.09C1318.82 649.42 1320.81 649.51 1322.8 649.75C1324.8 649.98 1326.79 650.21 1328.78 650.49C1330.77 650.77 1332.76 651.08 1334.75 651.42C1336.74 651.76 1338.73 652.14 1340.72 652.54C1342.71 652.95 1344.7 653.39 1346.69 653.86C1348.68 654.33 1350.67 654.83 1352.66 655.36C1354.65 655.89 1356.64 656.46 1358.63 657.05C1360.62 657.65 1362.61 658.28 1364.6 658.94C1366.59 659.6 1368.58 660.29 1370.57 661.01C1372.57 661.73 1374.56 662.49 1376.55 663.27C1378.54 664.06 1380.53 664.88 1382.52 665.73C1384.51 666.58 1386.5 667.46 1388.49 668.37C1390.48 669.28 1392.47 670.23 1394.46 671.2C1396.45 672.18 1398.44 673.19 1400.43 674.23C1402.42 675.26 1404.41 676.34 1406.4 677.44C1408.39 678.54 1410.38 679.68 1412.37 680.82C1414.36 681.97 1416.35 683.15 1418.34 684.33C1420.34 685.51 1422.33 686.7 1424.32 687.89C1426.31 689.07 1428.3 690.27 1430.29 691.44C1432.28 692.61 1434.27 693.79 1436.26 694.93C1438.25 696.07 1440.24 697.19 1442.23 698.28C1444.22 699.37 1446.21 700.43 1448.2 701.44C1450.19 702.45 1452.18 703.43 1454.17 704.35C1456.16 705.27 1458.15 706.14 1460.14 706.94C1462.13 707.74 1464.12 708.49 1466.11 709.16C1468.11 709.82 1470.1 710.42 1472.09 710.93C1474.08 711.44 1476.07 711.88 1478.06 712.21C1480.05 712.54 1482.04 712.78 1484.03 712.91C1486.02 713.05 1489 712.98 1490 713L1490 716C1489 715.86 1486.01 715.42 1484.01 715.14C1482.02 714.85 1480.02 714.57 1478.02 714.3C1476.03 714.02 1474.03 713.75 1472.03 713.49C1470.04 713.22 1468.04 712.96 1466.05 712.71C1464.05 712.45 1462.05 712.2 1460.06 711.96C1458.06 711.71 1456.07 711.47 1454.07 711.24C1452.07 711.01 1450.08 710.78 1448.08 710.56C1446.09 710.33 1444.09 710.12 1442.09 709.91C1440.1 709.7 1438.1 709.49 1436.1 709.3C1434.11 709.1 1432.11 708.91 1430.12 708.73C1428.12 708.54 1426.12 708.36 1424.13 708.19C1422.13 708.02 1420.14 707.86 1418.14 707.7C1416.14 707.55 1414.15 707.4 1412.15 707.26C1410.16 707.11 1408.16 706.98 1406.16 706.85C1404.17 706.73 1402.17 706.61 1400.17 706.5C1398.18 706.38 1396.18 706.28 1394.19 706.19C1392.19 706.09 1390.19 706 1388.2 705.92C1386.2 705.83 1384.21 705.75 1382.21 705.68C1380.21 705.6 1378.22 705.53 1376.22 705.45C1374.22 705.38 1372.23 705.31 1370.23 705.23C1368.24 705.15 1366.24 705.08 1364.24 705C1362.25 704.91 1360.25 704.83 1358.26 704.74C1356.26 704.65 1354.26 704.55 1352.27 704.44C1350.27 704.34 1348.28 704.23 1346.28 704.1C1344.28 703.97 1342.29 703.84 1340.29 703.65C1338.29 703.46 1336.3 703.26 1334.3 702.98C1332.31 702.69 1330.31 702.37 1328.31 701.95C1326.32 701.53 1324.32 701.05 1322.33 700.45C1320.33 699.85 1318.33 699.17 1316.34 698.34C1314.34 697.52 1312.34 696.59 1310.35 695.5C1308.35 694.41 1306.36 693.2 1304.36 691.81C1302.36 690.41 1300.37 688.86 1298.37 687.12C1296.38 685.38 1294.38 683.46 1292.38 681.36C1290.39 679.26 1288.39 676.97 1286.4 674.51C1284.4 672.04 1282.4 669.4 1280.41 666.57C1278.41 663.74 1276.41 660.74 1274.42 657.55C1272.42 654.36 1270.43 651 1268.43 647.45C1266.43 643.91 1264.44 640.18 1262.44 636.28C1260.45 632.38 1258.45 628.29 1256.45 624.05C1254.46 619.81 1252.46 615.37 1250.47 610.85C1248.47 606.33 1246.47 601.64 1244.48 596.92C1242.48 592.21 1240.48 587.37 1238.49 582.55C1236.49 577.72 1234.5 572.82 1232.5 567.98C1230.5 563.14 1228.51 558.27 1226.51 553.49C1224.52 548.72 1222.52 543.97 1220.52 539.35C1218.53 534.74 1216.53 530.19 1214.53 525.82C1212.54 521.45 1210.54 517.21 1208.55 513.12C1206.55 509.04 1204.55 505.1 1202.56 501.31C1200.56 497.51 1198.57 493.87 1196.57 490.38C1194.57 486.88 1192.58 483.54 1190.58 480.34C1188.59 477.15 1186.59 474.1 1184.59 471.21C1182.6 468.32 1180.6 465.58 1178.6 462.99C1176.61 460.41 1174.61 457.97 1172.62 455.69C1170.62 453.41 1168.62 451.29 1166.63 449.32C1164.63 447.34 1162.64 445.53 1160.64 443.87C1158.64 442.21 1156.65 440.71 1154.65 439.37C1152.66 438.02 1150.66 436.84 1148.66 435.81C1146.67 434.78 1144.67 433.91 1142.67 433.21C1140.68 432.5 1138.68 431.95 1136.69 431.56C1134.69 431.18 1132.69 430.95 1130.7 430.89C1128.7 430.83 1126.71 430.93 1124.71 431.2C1122.71 431.46 1120.72 431.89 1118.72 432.48C1116.72 433.08 1114.73 433.83 1112.73 434.76C1110.74 435.7 1108.74 436.79 1106.74 438.09C1104.75 439.4 1102.75 440.87 1100.76 442.57C1098.76 444.27 1096.76 446.16 1094.77 448.28C1092.77 450.41 1090.78 452.76 1088.78 455.31C1086.78 457.87 1084.79 460.66 1082.79 463.62C1080.79 466.59 1078.8 469.77 1076.8 473.12C1074.81 476.47 1072.81 480.02 1070.81 483.71C1068.82 487.41 1066.82 491.29 1064.83 495.3C1062.83 499.32 1060.83 503.5 1058.84 507.81C1056.84 512.12 1054.84 516.58 1052.85 521.16C1050.85 525.75 1048.86 530.47 1046.86 535.3C1044.86 540.13 1042.87 545.09 1040.87 550.15C1038.88 555.21 1036.88 560.38 1034.88 565.65C1032.89 570.91 1030.89 576.28 1028.9 581.73C1026.9 587.18 1024.9 592.73 1022.91 598.34C1020.91 603.95 1018.91 609.64 1016.92 615.39C1014.92 621.14 1012.93 626.97 1010.93 632.84C1008.93 638.71 1006.94 644.64 1004.94 650.61C1002.95 656.57 1000.95 662.59 998.95 668.63C996.96 674.67 994.96 680.76 992.97 686.85C990.97 692.94 988.97 699.07 986.98 705.19C984.98 711.32 982.98 717.46 980.99 723.6C978.99 729.73 976 738.93 975 742Z" fill="#ebcb9f" fill-opacity="0.25"/>
<g transform="scale(1.0 1)" fill="none" stroke-linejoin="round">
<path d="M968.34 336.31L969.38 336.9L970.86 337.75L972.36 338.59L973.7 339.33L975.04 340.07L976.39 340.8L977.73 341.52L979.07 342.23L980.41 342.94L981.75 343.64L983.09 344.34L984.43 345.03L985.77 345.71L987.11 346.39L988.45 347.07L989.79 347.74L991.12 348.41L992.46 349.08L993.8 349.74L995.13 350.4L996.47 351.06L997.8 351.71L999.14 352.37L1000.47 353.02L1001.8 353.68L1003.14 354.33L1004.47 354.98L1005.8 355.64L1007.13 356.29L1008.46 356.95L1009.79 357.61L1011.12 358.27L1012.45 358.93L1013.78 359.6L1015.11 360.27L1016.44 360.94L1017.76 361.62L1019.09 362.3L1020.42 362.98L1021.74 363.67L1023.07 364.37L1024.39 365.07L1025.72 365.78L1027.04 366.49L1028.37 367.21L1029.69 367.94L1031.01 368.68L1032.34 369.42L1033.66 370.17L1034.98 370.93L1036.3 371.7L1037.62 372.48L1038.94 373.27L1040.27 374.07L1041.59 374.88L1042.91 375.7L1044.22 376.53L1045.54 377.38L1046.86 378.23L1048.18 379.11L1049.49 380L1050.81 380.9L1052.12 381.82L1053.44 382.76L1054.75 383.72L1056.06 384.7L1057.37 385.7L1058.69 386.72L1060 387.76L1061.31 388.84L1062.62 389.93L1063.93 391.05L1065.24 392.2L1066.55 393.37L1067.87 394.58L1069.18 395.81L1070.49 397.08L1071.8 398.38L1073.11 399.71L1074.42 401.07L1075.74 402.47L1077.05 403.91L1078.36 405.38L1079.68 406.89L1080.99 408.44L1082.31 410.02L1083.63 411.63L1084.95 413.27L1086.27 414.95L1087.59 416.65L1088.92 418.38L1090.24 420.14L1091.56 421.92L1092.89 423.72L1094.21 425.55L1095.54 427.4L1096.87 429.27L1098.19 431.15L1099.52 433.06L1100.85 434.99L1102.17 436.94L1103.5 438.91L1104.83 440.9L1106.15 442.91L1107.48 444.94L1108.8 447L1110.13 449.08L1111.46 451.18L1112.78 453.3L1114.11 455.46L1115.44 457.63L1116.77 459.82L1118.09 462.04L1119.42 464.28L1120.75 466.53L1122.08 468.8L1123.41 471.09L1124.74 473.38L1126.08 475.68L1127.41 477.99L1128.74 480.3L1130.07 482.62L1131.41 484.94L1132.74 487.25L1134.07 489.57L1135.41 491.87L1136.75 494.16L1138.09 496.43L1139.43 498.67L1140.77 500.88L1142.12 503.05L1143.47 505.18L1144.82 507.25L1146.17 509.27L1147.53 511.22L1148.89 513.1L1150.25 514.91L1151.63 516.64L1153.01 518.27L1154.39 519.81L1155.78 521.26L1157.17 522.63L1158.56 523.9L1159.95 525.09L1161.35 526.21L1162.74 527.26L1164.12 528.24L1165.51 529.18L1166.89 530.05L1168.26 530.89L1169.63 531.69L1171 532.45L1172.36 533.19L1173.72 533.9L1175.09 534.59L1176.47 535.26L1177.85 535.89L1179.23 536.48L1180.63 537.04L1182.03 537.55L1183.44 538.02L1184.86 538.43L1186.28 538.79L1187.72 539.09L1189.16 539.33L1190.61 539.49L1192.06 539.58L1193.52 539.6L1194.98 539.54L1196.44 539.4L1197.88 539.2L1199.33 538.92L1200.77 538.58L1202.2 538.17L1203.62 537.7L1205.04 537.16L1206.46 536.57L1207.87 535.92L1209.27 535.21L1210.67 534.45L1212.06 533.64L1213.45 532.78L1214.83 531.87L1216.21 530.91L1217.59 529.91L1218.96 528.87L1220.33 527.78L1221.69 526.65L1223.06 525.48L1224.42 524.28L1225.78 523.03L1227.13 521.76L1228.49 520.45L1229.84 519.11L1231.19 517.75L1232.54 516.36L1233.89 514.94L1235.23 513.51L1236.57 512.06L1237.92 510.58L1239.26 509.1L1240.6 507.6L1241.93 506.09L1243.27 504.58L1244.61 503.06L1245.94 501.53L1247.27 500L1248.61 498.48L1249.94 496.95L1251.27 495.44L1252.59 493.93L1253.92 492.42L1255.24 490.93L1256.56 489.45L1257.88 487.99L1259.21 486.53L1260.53 485.09L1261.85 483.66L1263.18 482.22L1264.51 480.79L1265.84 479.37L1267.17 477.93L1268.5 476.5L1269.83 475.06L1271.17 473.61L1272.5 472.14L1273.84 470.67L1275.17 469.18L1276.51 467.67L1277.85 466.14L1279.19 464.59L1280.53 463.01L1281.87 461.41L1283.21 459.8L1284.54 458.16L1285.88 456.51L1287.2 454.86L1288.53 453.22L1289.85 451.59L1291.17 450L1292.49 448.42L1293.8 446.89L1295.1 445.4L1296.41 443.97L1297.71 442.59L1298.99 441.29L1300.27 440.07L1301.55 438.91L1302.83 437.84L1304.1 436.84L1305.37 435.91L1306.63 435.04L1307.89 434.25L1309.16 433.51L1310.42 432.84L1311.68 432.22L1312.94 431.66L1314.2 431.15L1315.46 430.69L1316.72 430.29L1317.98 429.92L1319.25 429.6L1320.51 429.33L1321.78 429.09L1323.05 428.89L1324.33 428.72L1325.61 428.59L1326.89 428.49L1328.17 428.42L1329.46 428.38L1330.76 428.36L1332.05 428.37L1333.35 428.4L1334.66 428.45L1335.96 428.52L1337.27 428.6L1338.58 428.69L1339.89 428.81L1341.2 428.93L1342.51 429.08L1343.82 429.24L1345.12 429.41L1346.43 429.6L1347.74 429.81L1349.05 430.04L1350.35 430.28L1351.66 430.55L1352.97 430.83L1354.27 431.12L1355.59 431.44L1356.9 431.77L1358.22 432.12L1359.55 432.47L1360.88 432.83L1362.22 433.19L1363.56 433.54L1364.91 433.89L1366.26 434.23L1367.62 434.55L1368.99 434.85L1370.36 435.12L1371.73 435.37L1373.12 435.59L1374.5 435.77L1375.88 435.91L1377.26 436.02L1378.64 436.09L1380.01 436.14L1381.38 436.16L1382.75 436.15L1384.11 436.13L1385.47 436.08L1386.83 436.02L1388.18 435.94L1389.53 435.85L1390.87 435.75L1392.22 435.64L1393.55 435.52L1394.89 435.41L1396.23 435.29L1397.56 435.16L1398.9 435.04L1400.25 434.9L1401.61 434.75L1402.96 434.59L1404.33 434.4L1405.71 434.18L1407.08 433.92L1408.46 433.63L1409.84 433.31L1411.22 432.95L1412.59 432.55L1413.96 432.12L1415.33 431.66L1416.7 431.17L1418.06 430.65L1419.43 430.11L1420.79 429.53L1422.14 428.94L1423.5 428.32L1424.85 427.68L1426.21 427.02L1427.56 426.34L1428.9 425.64L1430.24 424.94L1431.58 424.23L1432.92 423.52L1434.25 422.81L1435.58 422.1L1436.9 421.41L1438.22 420.73L1439.53 420.06L1440.84 419.42L1442.15 418.8L1443.45 418.21L1444.75 417.65L1446.04 417.13L1447.33 416.65L1448.61 416.21L1449.89 415.8L1451.17 415.44L1452.45 415.12L1453.73 414.84L1455 414.6L1456.28 414.41L1457.57 414.24L1458.85 414.11L1460.15 414.02L1461.46 413.94L1462.76 413.87L1464.07 413.83L1465.39 413.8L1466.71 413.78L1468.03 413.77L1469.36 413.76L1470.68 413.76L1472.01 413.76L1473.35 413.76L1474.68 413.76L1476.01 413.76L1477.34 413.77L1478.68 413.77L1479.99 413.78L1481.28 413.81L1482.57 413.87L1483.86 413.96L1485.12 414.09L1486.38 414.28L1487.66 414.51L1488.94 414.79L1490.22 415.1L1491.51 415.46L1492.81 415.85L1494.11 416.27L1495.42 416.71L1496.74 417.17L1498.05 417.65L1499.38 418.14L1500.71 418.63L1502.05 419.13L1503.39 419.62L1504.74 420.11L1506.09 420.58L1507.44 421.03L1508.81 421.46L1510.18 421.86L1511.55 422.24L1512.94 422.57L1514.33 422.85L1515.73 423.1L1517.14 423.28L1518.55 423.4L1519.96 423.46L1521.39 423.46L1522.82 423.37L1524.23 423.22L1525.64 423L1527.05 422.72L1528.45 422.39L1529.84 422L1531.23 421.58L1532.61 421.1L1533.98 420.6L1535.35 420.06L1536.71 419.49L1538.06 418.91L1539.42 418.3L1540.78 417.67L1542.13 417.01L1543.49 416.34L1544.84 415.64L1546.2 414.91L1547.56 414.16L1548.92 413.38L1550.28 412.57L1551.64 411.72L1553 410.85L1554.36 409.94L1555.72 409L1557.08 408.03L1558.44 407.01L1559.8 405.96L1561.15 404.87L1562.51 403.75L1563.86 402.6L1565.21 401.42L1566.56 400.22L1567.9 399L1569.24 397.77L1570.58 396.53L1571.92 395.27L1573.26 394.02L1574.59 392.76L1575.92 391.51L1577.25 390.26L1578.58 389.03L1579.9 387.81L1581.23 386.6L1582.55 385.42L1583.87 384.27L1585.18 383.14L1586.49 382.05L1587.8 381L1589.11 379.98L1590.41 379.01L1591.71 378.09L1593 377.22L1594.3 376.39L1595.59 375.6L1596.88 374.87L1598.17 374.17L1599.47 373.51L1600.76 372.89L1602.05 372.31L1603.34 371.76L1604.64 371.25L1605.93 370.77L1607.22 370.32L1608.52 369.91L1609.82 369.52L1611.11 369.15L1612.41 368.82L1613.71 368.5L1615.02 368.21L1616.32 367.94L1617.62 367.7L1618.93 367.47L1620.23 367.26L1621.54 367.07L1622.85 366.9L1624.16 366.74L1625.47 366.6L1626.78 366.48L1628.09 366.37L1629.4 366.28L1630.71 366.2L1632.03 366.14L1633.34 366.09L1634.66 366.05L1635.97 366.02L1637.29 366L1638.61 365.99L1639.93 365.99L1641.25 366L1642.57 366.02L1643.9 366.04L1645.22 366.07L1646.54 366.11L1647.87 366.15L1649.19 366.2L1650.51 366.26L1651.83 366.33L1653.15 366.4L1654.47 366.48L1655.79 366.58L1657.11 366.68L1658.43 366.79L1659.74 366.91L1661.06 367.05L1662.38 367.19L1663.69 367.35L1665.01 367.52L1666.32 367.7L1667.64 367.89L1668.95 368.1L1670.26 368.33L1671.57 368.56L1672.89 368.81L1674.2 369.08L1675.51 369.37L1676.82 369.66L1678.14 369.97L1679.46 370.3L1680.78 370.63L1682.1 370.98L1683.43 371.33L1684.75 371.68L1686.08 372.05L1687.41 372.41L1688.74 372.78L1690.08 373.14L1691.41 373.51L1692.75 373.87L1694.09 374.23L1695.43 374.58L1696.78 374.93L1698.12 375.26L1699.47 375.59L1700.82 375.9L1702.17 376.2L1703.53 376.49L1704.88 376.76L1706.24 377.01L1707.59 377.24L1708.94 377.46L1710.29 377.67L1711.64 377.86L1712.99 378.04L1714.34 378.21L1715.68 378.37L1717.03 378.52L1718.37 378.66L1719.71 378.8L1721.05 378.93L1722.39 379.06L1723.72 379.18L1725.06 379.3L1726.39 379.43L1727.72 379.55L1729.05 379.67L1730.38 379.79L1731.71 379.92L1733.03 380.05L1734.36 380.19L1735.68 380.33L1737 380.48L1738.33 380.64L1739.65 380.8L1740.97 380.98L1742.29 381.16L1743.62 381.34L1744.94 381.54L1746.26 381.74L1747.59 381.94L1748.91 382.15L1750.24 382.37L1751.57 382.59L1752.89 382.82L1754.22 383.05L1755.54 383.29L1756.87 383.53L1758.2 383.78L1759.53 384.03L1760.85 384.28L1762.18 384.53L1763.51 384.79L1764.84 385.06L1766.17 385.32L1767.5 385.59L1768.83 385.86L1770.16 386.13L1771.49 386.4L1772.82 386.67L1774.15 386.95L1775.49 387.23L1776.82 387.5L1778.15 387.78L1779.48 388.06L1780.82 388.33L1782.3 388.64L1783.78 388.95L1784.82 389.16L1785.58 385.44L1784.55 385.22L1783.07 384.92L1781.59 384.61L1780.26 384.34L1778.92 384.06L1777.59 383.78L1776.26 383.5L1774.92 383.23L1773.59 382.95L1772.26 382.68L1770.92 382.4L1769.59 382.13L1768.25 381.86L1766.92 381.59L1765.58 381.33L1764.24 381.07L1762.91 380.8L1761.57 380.55L1760.23 380.29L1758.89 380.04L1757.56 379.79L1756.22 379.55L1754.88 379.31L1753.54 379.08L1752.2 378.85L1750.86 378.62L1749.52 378.4L1748.18 378.19L1746.84 377.98L1745.5 377.78L1744.16 377.58L1742.82 377.39L1741.47 377.21L1740.13 377.04L1738.79 376.87L1737.44 376.71L1736.1 376.55L1734.76 376.41L1733.42 376.27L1732.08 376.14L1730.74 376.01L1729.4 375.88L1728.07 375.76L1726.73 375.64L1725.4 375.52L1724.07 375.4L1722.74 375.27L1721.41 375.15L1720.09 375.02L1718.76 374.88L1717.44 374.74L1716.12 374.59L1714.8 374.44L1713.48 374.27L1712.16 374.09L1710.85 373.91L1709.53 373.71L1708.22 373.49L1706.91 373.27L1705.6 373.03L1704.29 372.77L1702.97 372.49L1701.66 372.2L1700.35 371.89L1699.03 371.57L1697.71 371.25L1696.39 370.91L1695.06 370.56L1693.74 370.2L1692.41 369.84L1691.08 369.48L1689.75 369.11L1688.42 368.75L1687.08 368.38L1685.75 368.02L1684.41 367.66L1683.07 367.3L1681.72 366.95L1680.38 366.61L1679.03 366.28L1677.68 365.96L1676.33 365.66L1674.98 365.36L1673.62 365.09L1672.27 364.83L1670.92 364.58L1669.57 364.35L1668.21 364.14L1666.86 363.94L1665.51 363.75L1664.16 363.58L1662.81 363.42L1661.46 363.27L1660.11 363.13L1658.76 363L1657.42 362.89L1656.07 362.79L1654.72 362.69L1653.38 362.61L1652.03 362.53L1650.69 362.46L1649.34 362.41L1648 362.35L1646.66 362.31L1645.32 362.27L1643.98 362.24L1642.63 362.22L1641.29 362.2L1639.95 362.19L1638.6 362.19L1637.25 362.2L1635.91 362.22L1634.56 362.25L1633.21 362.29L1631.86 362.34L1630.51 362.41L1629.15 362.49L1627.8 362.59L1626.45 362.7L1625.09 362.82L1623.73 362.97L1622.38 363.13L1621.02 363.3L1619.66 363.5L1618.3 363.72L1616.94 363.96L1615.58 364.22L1614.22 364.5L1612.85 364.8L1611.49 365.13L1610.12 365.48L1608.76 365.87L1607.39 366.28L1606.02 366.72L1604.65 367.2L1603.28 367.7L1601.9 368.25L1600.53 368.83L1599.16 369.45L1597.78 370.11L1596.41 370.81L1595.04 371.55L1593.66 372.34L1592.29 373.18L1590.92 374.06L1589.55 374.99L1588.18 375.96L1586.82 376.98L1585.46 378.04L1584.1 379.14L1582.75 380.27L1581.4 381.43L1580.05 382.61L1578.71 383.81L1577.37 385.04L1576.03 386.27L1574.69 387.52L1573.35 388.78L1572.02 390.03L1570.69 391.29L1569.36 392.55L1568.03 393.79L1566.7 395.03L1565.38 396.25L1564.06 397.45L1562.74 398.63L1561.42 399.78L1560.11 400.9L1558.8 401.99L1557.49 403.04L1556.19 404.06L1554.88 405.03L1553.58 405.97L1552.27 406.88L1550.97 407.75L1549.66 408.6L1548.35 409.41L1547.05 410.19L1545.74 410.94L1544.43 411.67L1543.13 412.37L1541.82 413.05L1540.51 413.71L1539.2 414.34L1537.89 414.95L1536.58 415.55L1535.27 416.12L1533.97 416.66L1532.67 417.17L1531.38 417.65L1530.09 418.1L1528.81 418.49L1527.54 418.85L1526.27 419.15L1525.01 419.4L1523.76 419.6L1522.51 419.74L1521.27 419.82L1520.03 419.83L1518.78 419.77L1517.53 419.67L1516.27 419.51L1515 419.29L1513.73 419.03L1512.45 418.72L1511.16 418.38L1509.86 418L1508.56 417.59L1507.25 417.16L1505.94 416.7L1504.62 416.23L1503.3 415.74L1501.96 415.25L1500.63 414.76L1499.29 414.26L1497.95 413.77L1496.6 413.3L1495.24 412.84L1493.88 412.4L1492.51 411.99L1491.14 411.6L1489.75 411.26L1488.37 410.96L1486.98 410.7L1485.58 410.49L1484.17 410.34L1482.79 410.25L1481.42 410.18L1480.05 410.14L1478.69 410.13L1477.36 410.12L1476.02 410.12L1474.69 410.11L1473.36 410.11L1472.03 410.11L1470.69 410.1L1469.35 410.1L1468.01 410.1L1466.67 410.11L1465.32 410.13L1463.97 410.16L1462.62 410.2L1461.26 410.26L1459.9 410.34L1458.53 410.45L1457.15 410.58L1455.77 410.76L1454.39 410.96L1453 411.22L1451.61 411.52L1450.22 411.87L1448.84 412.26L1447.45 412.69L1446.07 413.16L1444.7 413.67L1443.32 414.23L1441.95 414.81L1440.59 415.42L1439.23 416.06L1437.87 416.73L1436.53 417.41L1435.18 418.1L1433.83 418.81L1432.5 419.51L1431.16 420.22L1429.83 420.93L1428.5 421.63L1427.18 422.32L1425.86 423L1424.55 423.66L1423.23 424.3L1421.92 424.91L1420.61 425.51L1419.31 426.08L1418 426.62L1416.7 427.14L1415.4 427.63L1414.1 428.1L1412.8 428.53L1411.51 428.93L1410.22 429.3L1408.93 429.64L1407.64 429.94L1406.35 430.21L1405.06 430.44L1403.78 430.65L1402.48 430.82L1401.17 430.98L1399.86 431.12L1398.55 431.25L1397.22 431.36L1395.89 431.48L1394.56 431.59L1393.23 431.7L1391.9 431.8L1390.58 431.91L1389.26 432L1387.95 432.08L1386.63 432.15L1385.32 432.2L1384.02 432.24L1382.71 432.26L1381.42 432.25L1380.12 432.23L1378.83 432.18L1377.54 432.1L1376.25 431.99L1374.97 431.85L1373.68 431.68L1372.4 431.47L1371.11 431.23L1369.82 430.96L1368.52 430.67L1367.21 430.35L1365.9 430.02L1364.59 429.67L1363.26 429.31L1361.93 428.95L1360.6 428.58L1359.26 428.22L1357.92 427.86L1356.57 427.51L1355.22 427.18L1353.86 426.86L1352.5 426.56L1351.14 426.28L1349.78 426.02L1348.42 425.77L1347.07 425.55L1345.71 425.34L1344.35 425.15L1342.99 424.98L1341.64 424.82L1340.28 424.68L1338.92 424.56L1337.57 424.45L1336.21 424.36L1334.85 424.28L1333.49 424.22L1332.13 424.19L1330.76 424.17L1329.38 424.18L1328.01 424.21L1326.63 424.27L1325.24 424.37L1323.86 424.5L1322.47 424.67L1321.07 424.88L1319.68 425.13L1318.28 425.43L1316.88 425.77L1315.47 426.17L1314.07 426.61L1312.66 427.11L1311.26 427.67L1309.85 428.28L1308.45 428.96L1307.04 429.7L1305.64 430.5L1304.24 431.37L1302.84 432.31L1301.44 433.32L1300.05 434.41L1298.65 435.57L1297.27 436.81L1295.89 438.11L1294.51 439.49L1293.14 440.93L1291.78 442.41L1290.42 443.94L1289.06 445.52L1287.71 447.11L1286.37 448.73L1285.02 450.37L1283.69 452L1282.35 453.64L1281.01 455.28L1279.69 456.89L1278.36 458.48L1277.03 460.05L1275.71 461.59L1274.38 463.11L1273.06 464.61L1271.73 466.09L1270.4 467.56L1269.07 469.01L1267.74 470.45L1266.41 471.89L1265.08 473.31L1263.74 474.74L1262.41 476.16L1261.07 477.58L1259.73 479.01L1258.39 480.44L1257.05 481.88L1255.71 483.33L1254.37 484.79L1253.03 486.26L1251.68 487.74L1250.34 489.24L1249 490.75L1247.66 492.27L1246.32 493.79L1244.99 495.32L1243.66 496.84L1242.32 498.37L1240.99 499.89L1239.66 501.4L1238.33 502.91L1237.01 504.4L1235.68 505.89L1234.36 507.35L1233.03 508.8L1231.71 510.23L1230.39 511.64L1229.07 513.02L1227.75 514.38L1226.44 515.71L1225.12 517.01L1223.81 518.27L1222.5 519.5L1221.2 520.69L1219.9 521.85L1218.59 522.96L1217.29 524.03L1216 525.06L1214.71 526.04L1213.42 526.98L1212.13 527.87L1210.85 528.71L1209.57 529.51L1208.3 530.25L1207.03 530.93L1205.77 531.57L1204.51 532.15L1203.26 532.67L1202.01 533.14L1200.77 533.55L1199.54 533.9L1198.31 534.2L1197.09 534.43L1195.87 534.6L1194.66 534.71L1193.46 534.76L1192.25 534.75L1191.04 534.67L1189.82 534.53L1188.6 534.33L1187.37 534.07L1186.13 533.76L1184.88 533.39L1183.63 532.98L1182.36 532.51L1181.09 532.01L1179.81 531.46L1178.53 530.87L1177.24 530.25L1175.94 529.59L1174.64 528.9L1173.34 528.2L1172.04 527.47L1170.75 526.72L1169.45 525.93L1168.17 525.11L1166.89 524.25L1165.61 523.34L1164.33 522.38L1163.06 521.35L1161.78 520.26L1160.51 519.09L1159.24 517.85L1157.96 516.51L1156.68 515.08L1155.39 513.56L1154.1 511.93L1152.8 510.21L1151.5 508.4L1150.19 506.52L1148.88 504.56L1147.56 502.54L1146.24 500.47L1144.92 498.33L1143.6 496.16L1142.28 493.94L1140.95 491.69L1139.62 489.42L1138.3 487.13L1136.97 484.82L1135.63 482.5L1134.3 480.19L1132.97 477.87L1131.64 475.55L1130.3 473.24L1128.97 470.93L1127.63 468.63L1126.3 466.34L1124.96 464.06L1123.63 461.79L1122.29 459.54L1120.95 457.31L1119.62 455.09L1118.28 452.9L1116.94 450.73L1115.6 448.58L1114.26 446.46L1112.92 444.36L1111.58 442.28L1110.25 440.22L1108.91 438.19L1107.57 436.18L1106.23 434.19L1104.89 432.22L1103.55 430.28L1102.21 428.35L1100.87 426.44L1099.53 424.55L1098.19 422.68L1096.85 420.83L1095.51 419L1094.17 417.2L1092.83 415.41L1091.49 413.65L1090.15 411.92L1088.8 410.21L1087.46 408.53L1086.11 406.88L1084.76 405.26L1083.41 403.68L1082.06 402.13L1080.71 400.61L1079.36 399.12L1078.01 397.68L1076.65 396.27L1075.3 394.89L1073.94 393.55L1072.59 392.24L1071.24 390.96L1069.88 389.71L1068.53 388.49L1067.17 387.31L1065.82 386.15L1064.47 385.01L1063.11 383.91L1061.76 382.83L1060.41 381.77L1059.05 380.74L1057.7 379.72L1056.35 378.73L1055 377.77L1053.65 376.82L1052.29 375.89L1050.95 374.97L1049.6 374.08L1048.25 373.2L1046.9 372.33L1045.55 371.48L1044.21 370.64L1042.86 369.81L1041.52 368.99L1040.17 368.19L1038.83 367.39L1037.49 366.61L1036.14 365.83L1034.8 365.07L1033.46 364.31L1032.12 363.56L1030.77 362.82L1029.43 362.09L1028.09 361.36L1026.75 360.65L1025.41 359.93L1024.07 359.23L1022.73 358.53L1021.39 357.83L1020.05 357.15L1018.72 356.46L1017.38 355.78L1016.04 355.11L1014.7 354.43L1013.37 353.77L1012.03 353.1L1010.7 352.44L1009.36 351.78L1008.03 351.12L1006.7 350.46L1005.36 349.8L1004.03 349.15L1002.7 348.49L1001.37 347.84L1000.03 347.18L998.7 346.52L997.37 345.87L996.04 345.21L994.72 344.54L993.39 343.88L992.06 343.21L990.73 342.55L989.4 341.87L988.08 341.2L986.75 340.52L985.43 339.83L984.1 339.14L982.78 338.45L981.45 337.74L980.13 337.04L978.81 336.32L977.48 335.6L976.16 334.88L974.84 334.15L973.37 333.32L971.9 332.48L970.86 331.89Z" stroke="none" fill="#2546a8"/>
<path d="M974.16 732.32L975.45 728.95L977.29 724.12L979.14 719.23L980.8 714.75L982.46 710.22L984.12 705.66L985.78 701.04L987.44 696.39L989.1 691.7L990.76 686.97L992.42 682.21L994.08 677.42L995.74 672.61L997.4 667.77L999.06 662.91L1000.72 658.03L1002.38 653.13L1004.03 648.21L1005.68 643.29L1007.33 638.36L1008.99 633.42L1010.64 628.48L1012.29 623.53L1013.94 618.6L1015.59 613.66L1017.24 608.73L1018.89 603.82L1020.55 598.92L1022.2 594.03L1023.85 589.16L1025.5 584.32L1027.15 579.49L1028.81 574.7L1030.46 569.94L1032.11 565.21L1033.77 560.53L1035.42 555.88L1037.07 551.28L1038.72 546.73L1040.37 542.23L1042.02 537.78L1043.68 533.4L1045.34 529.08L1046.99 524.82L1048.65 520.64L1050.31 516.53L1051.96 512.49L1053.62 508.53L1055.27 504.65L1056.93 500.84L1058.58 497.1L1060.23 493.44L1061.89 489.84L1063.54 486.29L1065.2 482.81L1066.85 479.38L1068.51 476L1070.16 472.67L1071.82 469.39L1073.47 466.15L1075.13 462.95L1076.78 459.8L1078.44 456.7L1080.09 453.64L1081.75 450.64L1083.4 447.69L1085.05 444.79L1086.7 441.96L1088.35 439.18L1090 436.46L1091.65 433.81L1093.29 431.22L1094.94 428.7L1096.58 426.25L1098.23 423.87L1099.87 421.57L1101.5 419.33L1103.14 417.18L1104.78 415.11L1106.41 413.12L1108.04 411.21L1109.66 409.39L1111.28 407.65L1112.9 406.01L1114.51 404.45L1116.12 402.99L1117.72 401.63L1119.31 400.36L1120.9 399.19L1122.49 398.11L1124.06 397.13L1125.64 396.24L1127.2 395.44L1128.76 394.74L1130.32 394.12L1131.87 393.59L1133.42 393.14L1134.96 392.78L1136.5 392.5L1138.04 392.3L1139.57 392.18L1141.09 392.16L1142.61 392.22L1144.13 392.38L1145.64 392.63L1147.16 392.99L1148.68 393.44L1150.2 394L1151.74 394.68L1153.28 395.46L1154.84 396.36L1156.4 397.37L1157.97 398.5L1159.56 399.75L1161.15 401.11L1162.74 402.59L1164.35 404.19L1165.96 405.91L1167.57 407.74L1169.19 409.69L1170.82 411.75L1172.45 413.92L1174.09 416.19L1175.72 418.56L1177.36 421.04L1179 423.61L1180.65 426.28L1182.29 429.05L1183.94 431.91L1185.59 434.85L1187.24 437.9L1188.89 441.02L1190.54 444.23L1192.19 447.53L1193.84 450.91L1195.5 454.36L1197.15 457.89L1198.81 461.49L1200.47 465.16L1202.12 468.88L1203.78 472.67L1205.44 476.51L1207.1 480.4L1208.76 484.34L1210.42 488.33L1212.08 492.36L1213.74 496.42L1215.4 500.51L1217.06 504.64L1218.72 508.79L1220.38 512.95L1222.04 517.13L1223.71 521.33L1225.37 525.53L1227.03 529.74L1228.69 533.95L1230.36 538.17L1232.02 542.38L1233.68 546.59L1235.35 550.8L1237.01 555L1238.68 559.18L1240.34 563.35L1242 567.49L1243.67 571.61L1245.33 575.7L1247 579.76L1248.67 583.78L1250.34 587.75L1252.01 591.69L1253.69 595.56L1255.36 599.39L1257.03 603.15L1258.71 606.85L1260.38 610.49L1262.06 614.05L1263.73 617.54L1265.41 620.95L1267.09 624.28L1268.77 627.52L1270.45 630.66L1272.13 633.71L1273.82 636.67L1275.51 639.51L1277.19 642.25L1278.88 644.88L1280.58 647.41L1282.27 649.83L1283.97 652.15L1285.66 654.38L1287.36 656.5L1289.06 658.53L1290.76 660.47L1292.47 662.32L1294.17 664.08L1295.88 665.76L1297.59 667.36L1299.3 668.87L1301.02 670.3L1302.74 671.65L1304.46 672.93L1306.18 674.14L1307.9 675.28L1309.62 676.36L1311.34 677.36L1313.06 678.31L1314.77 679.2L1316.49 680.03L1318.21 680.8L1319.93 681.52L1321.64 682.19L1323.36 682.81L1325.06 683.39L1326.78 683.93L1328.48 684.43L1330.19 684.88L1331.89 685.31L1333.59 685.69L1335.29 686.05L1336.98 686.38L1338.68 686.68L1340.36 686.97L1342.05 687.23L1343.73 687.48L1345.41 687.71L1347.09 687.93L1348.77 688.13L1350.44 688.32L1352.11 688.51L1353.78 688.68L1355.45 688.86L1357.11 689.03L1358.77 689.2L1360.43 689.38L1362.09 689.56L1363.74 689.75L1365.39 689.95L1367.04 690.15L1368.7 690.37L1370.35 690.6L1372 690.83L1373.65 691.08L1375.3 691.33L1376.96 691.6L1378.61 691.87L1380.26 692.16L1381.92 692.45L1383.57 692.75L1385.22 693.06L1386.88 693.38L1388.53 693.71L1390.19 694.04L1391.84 694.39L1393.49 694.74L1395.15 695.1L1396.8 695.47L1398.46 695.84L1400.11 696.22L1401.77 696.61L1403.42 697.01L1405.08 697.42L1406.74 697.83L1408.39 698.25L1410.05 698.67L1411.71 699.1L1413.37 699.54L1415.02 699.98L1416.68 700.42L1418.34 700.87L1420 701.32L1421.66 701.78L1423.33 702.23L1424.99 702.69L1426.65 703.15L1428.31 703.61L1429.98 704.07L1431.64 704.53L1433.31 704.99L1434.97 705.45L1436.64 705.9L1438.3 706.36L1439.97 706.81L1441.63 707.26L1443.3 707.71L1444.96 708.16L1446.63 708.6L1448.3 709.04L1449.97 709.47L1451.64 709.89L1453.3 710.31L1454.97 710.72L1456.65 711.12L1458.32 711.51L1459.99 711.9L1461.66 712.27L1463.33 712.64L1465.01 713L1466.68 713.34L1468.36 713.67L1470.03 713.99L1471.71 714.3L1473.39 714.6L1475.06 714.88L1476.74 715.15L1478.42 715.4L1480.1 715.64L1481.78 715.87L1483.46 716.08L1485.14 716.27L1486.82 716.45L1488.5 716.62L1490.18 716.78L1491.85 716.92L1493.53 717.05L1495.21 717.17L1496.88 717.28L1498.56 717.37L1500.24 717.46L1501.91 717.53L1503.59 717.6L1505.26 717.66L1506.94 717.7L1508.61 717.74L1510.28 717.77L1511.96 717.79L1513.63 717.81L1515.3 717.81L1516.97 717.81L1518.64 717.81L1520.31 717.79L1521.98 717.78L1523.65 717.75L1525.32 717.73L1526.99 717.69L1528.66 717.66L1530.33 717.61L1532 717.57L1533.66 717.52L1535.33 717.47L1537 717.42L1538.66 717.37L1540.33 717.31L1541.99 717.25L1543.65 717.19L1545.32 717.13L1546.98 717.07L1548.64 717.01L1550.3 716.95L1551.97 716.89L1553.63 716.83L1555.29 716.78L1556.95 716.73L1558.61 716.68L1560.27 716.63L1561.92 716.58L1563.58 716.54L1565.24 716.51L1566.9 716.47L1568.56 716.44L1570.22 716.41L1571.88 716.38L1573.54 716.36L1575.2 716.34L1576.86 716.32L1578.52 716.3L1580.18 716.28L1581.84 716.27L1583.5 716.26L1585.16 716.25L1586.82 716.24L1588.48 716.24L1590.14 716.23L1591.8 716.23L1593.46 716.23L1595.13 716.22L1596.79 716.22L1598.45 716.23L1600.11 716.23L1601.77 716.23L1603.44 716.23L1605.1 716.24L1606.76 716.24L1608.42 716.24L1610.09 716.25L1611.75 716.25L1613.41 716.26L1615.08 716.26L1616.74 716.27L1618.4 716.27L1620.07 716.27L1621.73 716.28L1623.39 716.28L1625.05 716.28L1625.78 716.29L1626.54 716.29L1630.06 716.28L1637.83 716.22L1648.36 716.15L1660.01 716.1L1672.22 716.07L1685.56 716.06L1700 716.05L1716.24 716.05L1733.59 716.05L1750 716.05L1766 716.05L1781.06 716.05L1791.5 716.05L1791.5 711.15L1781.06 711.15L1766 711.15L1750 711.15L1733.59 711.15L1716.24 711.15L1700 711.15L1685.55 711.16L1672.21 711.17L1659.99 711.2L1648.33 711.29L1637.79 711.4L1630.03 711.48L1626.52 711.5L1625.81 711.5L1625.06 711.5L1623.39 711.5L1621.73 711.5L1620.07 711.51L1618.4 711.51L1616.74 711.51L1615.08 711.51L1613.42 711.51L1611.75 711.51L1610.09 711.52L1608.43 711.52L1606.76 711.52L1605.1 711.52L1603.44 711.52L1601.77 711.52L1600.11 711.53L1598.45 711.53L1596.78 711.54L1595.12 711.54L1593.45 711.55L1591.79 711.56L1590.12 711.56L1588.46 711.57L1586.79 711.59L1585.13 711.6L1583.46 711.62L1581.8 711.63L1580.13 711.65L1578.46 711.67L1576.8 711.69L1575.13 711.72L1573.47 711.75L1571.8 711.78L1570.13 711.81L1568.47 711.84L1566.8 711.88L1565.13 711.92L1563.47 711.97L1561.8 712.01L1560.13 712.06L1558.46 712.12L1556.8 712.17L1555.13 712.23L1553.47 712.29L1551.8 712.36L1550.14 712.42L1548.47 712.48L1546.81 712.55L1545.15 712.62L1543.48 712.68L1541.82 712.75L1540.16 712.81L1538.5 712.88L1536.84 712.94L1535.18 713.01L1533.52 713.07L1531.86 713.13L1530.2 713.18L1528.54 713.23L1526.89 713.28L1525.23 713.32L1523.57 713.36L1521.92 713.4L1520.26 713.43L1518.6 713.45L1516.95 713.47L1515.3 713.48L1513.64 713.48L1511.99 713.48L1510.33 713.47L1508.68 713.45L1507.03 713.42L1505.38 713.39L1503.73 713.34L1502.08 713.29L1500.43 713.23L1498.78 713.15L1497.13 713.07L1495.48 712.98L1493.83 712.87L1492.18 712.75L1490.53 712.62L1488.88 712.48L1487.23 712.33L1485.59 712.16L1483.94 711.98L1482.29 711.79L1480.65 711.58L1479 711.36L1477.36 711.12L1475.71 710.87L1474.06 710.6L1472.41 710.32L1470.76 710.03L1469.11 709.73L1467.46 709.41L1465.81 709.09L1464.16 708.75L1462.5 708.4L1460.85 708.04L1459.2 707.67L1457.54 707.3L1455.89 706.91L1454.23 706.52L1452.57 706.12L1450.92 705.71L1449.26 705.29L1447.6 704.87L1445.94 704.45L1444.28 704.01L1442.62 703.58L1440.96 703.14L1439.3 702.69L1437.64 702.24L1435.98 701.78L1434.32 701.32L1432.66 700.86L1430.99 700.4L1429.33 699.94L1427.67 699.48L1426 699.02L1424.34 698.56L1422.68 698.1L1421.01 697.64L1419.34 697.19L1417.68 696.73L1416.01 696.29L1414.34 695.84L1412.68 695.4L1411.01 694.97L1409.34 694.54L1407.67 694.11L1406 693.7L1404.33 693.29L1402.66 692.88L1400.99 692.49L1399.32 692.1L1397.65 691.72L1395.98 691.34L1394.3 690.98L1392.63 690.62L1390.96 690.27L1389.29 689.93L1387.62 689.6L1385.95 689.27L1384.27 688.96L1382.6 688.65L1380.93 688.36L1379.25 688.07L1377.58 687.79L1375.91 687.52L1374.23 687.26L1372.56 687.01L1370.89 686.76L1369.21 686.53L1367.54 686.31L1365.86 686.1L1364.19 685.9L1362.52 685.71L1360.85 685.52L1359.18 685.34L1357.51 685.17L1355.85 685L1354.19 684.82L1352.53 684.64L1350.88 684.46L1349.23 684.27L1347.58 684.07L1345.93 683.85L1344.28 683.62L1342.64 683.38L1341 683.12L1339.37 682.83L1337.73 682.51L1336.1 682.17L1334.47 681.8L1332.85 681.41L1331.23 680.98L1329.6 680.52L1327.98 680.02L1326.37 679.49L1324.75 678.92L1323.14 678.31L1321.53 677.65L1319.92 676.94L1318.31 676.2L1316.7 675.39L1315.1 674.54L1313.49 673.63L1311.88 672.66L1310.28 671.63L1308.67 670.53L1307.07 669.38L1305.46 668.15L1303.85 666.85L1302.24 665.48L1300.63 664.03L1299.01 662.51L1297.39 660.9L1295.77 659.22L1294.15 657.44L1292.53 655.58L1290.9 653.62L1289.27 651.57L1287.64 649.42L1286.01 647.17L1284.38 644.82L1282.75 642.36L1281.11 639.79L1279.48 637.12L1277.84 634.34L1276.2 631.44L1274.55 628.44L1272.91 625.34L1271.26 622.15L1269.61 618.86L1267.97 615.49L1266.32 612.04L1264.67 608.5L1263.02 604.89L1261.36 601.22L1259.71 597.47L1258.06 593.67L1256.4 589.81L1254.75 585.9L1253.1 581.94L1251.44 577.93L1249.78 573.89L1248.12 569.81L1246.46 565.7L1244.8 561.56L1243.13 557.4L1241.47 553.23L1239.81 549.03L1238.15 544.83L1236.48 540.62L1234.82 536.4L1233.16 532.19L1231.5 527.98L1229.83 523.76L1228.17 519.56L1226.51 515.36L1224.84 511.18L1223.18 507L1221.51 502.85L1219.85 498.71L1218.18 494.61L1216.52 490.54L1214.85 486.49L1213.18 482.49L1211.52 478.53L1209.85 474.62L1208.18 470.76L1206.51 466.95L1204.85 463.19L1203.18 459.5L1201.51 455.87L1199.84 452.31L1198.16 448.82L1196.49 445.4L1194.82 442.06L1193.14 438.8L1191.47 435.63L1189.79 432.54L1188.11 429.54L1186.43 426.62L1184.75 423.8L1183.07 421.06L1181.39 418.42L1179.7 415.88L1178.01 413.43L1176.32 411.07L1174.62 408.82L1172.92 406.67L1171.22 404.62L1169.51 402.68L1167.79 400.85L1166.07 399.13L1164.34 397.53L1162.61 396.04L1160.86 394.67L1159.11 393.41L1157.35 392.27L1155.57 391.24L1153.79 390.34L1152 389.55L1150.2 388.89L1148.39 388.35L1146.59 387.93L1144.77 387.62L1142.96 387.44L1141.16 387.36L1139.36 387.38L1137.56 387.52L1135.77 387.74L1133.99 388.06L1132.2 388.48L1130.42 388.99L1128.65 389.59L1126.88 390.29L1125.11 391.09L1123.35 391.98L1121.6 392.97L1119.85 394.05L1118.11 395.24L1116.37 396.51L1114.64 397.88L1112.91 399.35L1111.2 400.91L1109.48 402.55L1107.77 404.28L1106.07 406.1L1104.37 408.01L1102.67 409.99L1100.98 412.05L1099.29 414.19L1097.6 416.41L1095.91 418.7L1094.22 421.06L1092.54 423.5L1090.86 426L1089.18 428.56L1087.5 431.2L1085.82 433.89L1084.14 436.65L1082.47 439.46L1080.79 442.34L1079.12 445.27L1077.44 448.25L1075.77 451.28L1074.1 454.36L1072.43 457.49L1070.75 460.67L1069.08 463.89L1067.41 467.15L1065.74 470.46L1064.07 473.81L1062.4 477.21L1060.73 480.67L1059.06 484.18L1057.39 487.75L1055.72 491.38L1054.05 495.08L1052.37 498.84L1050.7 502.68L1049.03 506.59L1047.36 510.58L1045.69 514.65L1044.02 518.79L1042.35 523L1040.68 527.28L1039.01 531.62L1037.34 536.02L1035.67 540.48L1033.99 544.99L1032.32 549.56L1030.64 554.17L1028.97 558.82L1027.3 563.51L1025.62 568.25L1023.95 573.01L1022.28 577.81L1020.6 582.63L1018.93 587.48L1017.26 592.34L1015.58 597.23L1013.91 602.13L1012.23 607.04L1010.56 611.96L1008.88 616.89L1007.21 621.82L1005.53 626.76L1003.86 631.69L1002.19 636.62L1000.51 641.54L998.84 646.46L997.17 651.36L995.5 656.25L993.83 661.12L992.16 665.97L990.5 670.8L988.83 675.6L987.16 680.38L985.5 685.12L983.83 689.83L982.16 694.51L980.5 699.14L978.83 703.74L977.17 708.28L975.5 712.79L973.84 717.23L971.99 722.1L970.14 726.91L968.84 730.28Z" stroke="none" fill="#cd692b"/>
</g>
<path class="ax" stroke-width="4.5" d="M956.5 79V767.7"/>
<path class="ax" stroke-width="4.8" d="M1800.5 79.3V767.7"/>
<path class="ax" stroke-width="3.7" d="M948 81H1802.9"/>
<path class="ax" stroke-width="4.1" d="M948 765.6H1802.9"/>
<path class="ax" stroke-width="3" d="M948 178.25H955"/>
<path class="ax" stroke-width="3" d="M948 276.2H955"/>
<path class="ax" stroke-width="3" d="M948 373.6H955"/>
<path class="ax" stroke-width="3" d="M948 473H955"/>
<path class="ax" stroke-width="3" d="M948 570.8H955"/>
<path class="ax" stroke-width="3" d="M948 668H955"/>
<path class="ax" stroke-width="2.5" d="M951 130.5H955"/>
<path class="ax" stroke-width="2.5" d="M951 228H955"/>
<path class="ax" stroke-width="2.5" d="M951 325.5H955"/>
<path class="ax" stroke-width="2.5" d="M951 423.6H955"/>
<path class="ax" stroke-width="2.5" d="M951 521.3H955"/>
<path class="ax" stroke-width="2.5" d="M951 618.8H955"/>
<path class="ax" stroke-width="2.5" d="M951 716.3H955"/>
<text transform="translate(916.80 91.27) scale(1.0607 1)" font-size="22.54">20</text>
<text transform="translate(920.23 189.27) scale(1.0319 1)" font-size="22.89">18</text>
<text transform="translate(920.71 285.77) scale(1.0592 1)" font-size="22.54">16</text>
<text transform="translate(922.18 382.00) scale(0.9688 1)" font-size="23.62">14</text>
<text transform="translate(922.75 481.10) scale(1.0280 1)" font-size="22.71">12</text>
<text transform="translate(921.46 580.38) scale(1.0360 1)" font-size="22.39">10</text>
<text transform="translate(931.90 677.27) scale(1.0691 1)" font-size="22.89">8</text>
<text transform="translate(933.24 775.27) scale(1.1213 1)" font-size="22.54">6</text>
<text transform="translate(901.19 585.51) rotate(-90) scale(0.9823 1)" font-size="31.02">Telomere length (Kb)</text>
<path d="M1802.9 713.3H1811" stroke="#f4121c" stroke-width="3.1"/>
<path d="M1802.9 599.6H1811" stroke="#f4121c" stroke-width="3.1"/>
<path d="M1802.9 486.7H1811" stroke="#f4121c" stroke-width="3.1"/>
<path d="M1802.9 375.1H1811" stroke="#f4121c" stroke-width="3.1"/>
<path d="M1802.9 260.1H1811" stroke="#f4121c" stroke-width="3.1"/>
<path d="M1802.9 147.2H1811" stroke="#f4121c" stroke-width="3.1"/>
<path d="M1802.6 657.6H1806.2" stroke="#f4121c" stroke-width="3.4"/>
<path d="M1802.6 544.1H1806.2" stroke="#f4121c" stroke-width="3.4"/>
<path d="M1802.6 431H1806.2" stroke="#f4121c" stroke-width="3.4"/>
<path d="M1802.6 317.9H1806.2" stroke="#f4121c" stroke-width="3.4"/>
<path d="M1802.6 205H1806.2" stroke="#f4121c" stroke-width="3.4"/>
<path d="M1802.6 91.9H1806.2" stroke="#f4121c" stroke-width="3.4"/>
<text transform="translate(1817.36 157.26) scale(1.0003 1)" font-size="23.57" fill="#f4121c">5</text>
<text transform="translate(1816.52 268.30) scale(1.0398 1)" font-size="23.04" fill="#f4121c">4</text>
<text transform="translate(1815.46 385.87) scale(1.0271 1)" font-size="22.96" fill="#f4121c">3</text>
<text transform="translate(1815.15 496.10) scale(1.1030 1)" font-size="22.71" fill="#f4121c">2</text>
<text transform="translate(1817.51 609.90) scale(0.7482 1)" font-size="23.04" fill="#f4121c">1</text>
<text transform="translate(1822.10 725.17) scale(0.9741 1)" font-size="23.10" fill="#f4121c">0</text>
<text transform="translate(1878.69 566.15) rotate(-90) scale(0.9861 1)" font-size="31.02">Parasite density (log)</text>
<text transform="translate(970.00 786.25) rotate(-45) scale(1.0000 1) translate(-15.18 6.49)" font-size="18.80">C-1</text>
<text transform="translate(995.50 780.00) rotate(0) scale(1.0000 1) translate(-5.31 6.49)" font-size="18.80">6</text>
<text transform="translate(1015.50 778.75) rotate(0) scale(1.0000 1) translate(-5.22 6.49)" font-size="18.80">7</text>
<text transform="translate(1035.00 778.75) rotate(0) scale(1.0000 1) translate(-5.26 6.49)" font-size="18.80">8</text>
<text transform="translate(1053.00 779.50) rotate(0) scale(1.0000 1) translate(-5.22 6.49)" font-size="18.80">9</text>
<text transform="translate(1074.50 781.25) rotate(-45) scale(1.0000 1) translate(-10.81 6.49)" font-size="18.80">10</text>
<text transform="translate(1101.25 780.50) rotate(-45) scale(1.0000 1) translate(-10.01 6.49)" font-size="18.80">11</text>
<text transform="translate(1129.50 782.00) rotate(-45) scale(1.0000 1) translate(-10.67 6.58)" font-size="18.80">12</text>
<text transform="translate(1157.00 781.25) rotate(-45) scale(1.0000 1) translate(-10.76 6.49)" font-size="18.80">13</text>
<text transform="translate(1182.50 782.00) rotate(-45) scale(1.0000 1) translate(-10.86 6.49)" font-size="18.80">14</text>
<text transform="translate(1209.50 782.50) rotate(-45) scale(1.0000 1) translate(-10.76 6.39)" font-size="18.80">15</text>
<text transform="translate(1237.00 782.50) rotate(-45) scale(1.0000 1) translate(-10.76 6.49)" font-size="18.80">16</text>
<text transform="translate(1265.50 783.00) rotate(-45) scale(1.0000 1) translate(-10.67 6.49)" font-size="18.80">17</text>
<text transform="translate(1293.75 782.50) rotate(-45) scale(1.0000 1) translate(-10.76 6.49)" font-size="18.80">18</text>
<text transform="translate(1321.25 782.50) rotate(-45) scale(1.0000 1) translate(-10.72 6.49)" font-size="18.80">19</text>
<text transform="translate(1352.00 782.50) rotate(-45) scale(1.0000 1) translate(-10.58 6.49)" font-size="18.80">20</text>
<text transform="translate(1383.75 783.00) rotate(-45) scale(1.0000 1) translate(-10.48 6.58)" font-size="18.80">21</text>
<text transform="translate(1413.75 783.00) rotate(-45) scale(1.0000 1) translate(-10.43 6.58)" font-size="18.80">22</text>
<text transform="translate(1443.00 782.50) rotate(-45) scale(1.0000 1) translate(-10.53 6.49)" font-size="18.80">23</text>
<text transform="translate(1467.50 783.00) rotate(-45) scale(1.0000 1) translate(-10.62 6.58)" font-size="18.80">24</text>
<text transform="translate(1496.25 783.75) rotate(-45) scale(1.0000 1) translate(-10.43 6.58)" font-size="18.80">27</text>
<text transform="translate(1526.25 783.00) rotate(-45) scale(1.0000 1) translate(-10.48 6.49)" font-size="18.80">29</text>
<text transform="translate(1553.75 782.00) rotate(-45) scale(1.0000 1) translate(-10.39 6.49)" font-size="18.80">31</text>
<text transform="translate(1581.25 782.50) rotate(-45) scale(1.0000 1) translate(-10.53 6.49)" font-size="18.80">34</text>
<text transform="translate(1611.25 782.50) rotate(-45) scale(1.0000 1) translate(-10.43 6.49)" font-size="18.80">36</text>
<text transform="translate(1637.50 782.00) rotate(-45) scale(1.0000 1) translate(-10.43 6.49)" font-size="18.80">38</text>
<text transform="translate(1662.30 782.50) rotate(-45) scale(1.0000 1) translate(-10.15 6.58)" font-size="18.80">42</text>
<text transform="translate(1690.50 783.00) rotate(-45) scale(1.0000 1) translate(-10.25 6.49)" font-size="18.80">43</text>
<text transform="translate(1718.00 783.00) rotate(-45) scale(1.0000 1) translate(-10.34 6.49)" font-size="18.80">44</text>
<text transform="translate(1744.00 784.50) rotate(-45) scale(1.0000 1) translate(-10.25 6.39)" font-size="18.80">45</text>
<text transform="translate(1773.00 785.00) rotate(-45) scale(1.0000 1) translate(-10.62 6.49)" font-size="18.80">64</text>
<text transform="translate(1274.68 839.03) scale(1.0211 1)" font-size="30.80">Days post infection</text>
<text transform="translate(863.75 34.54) scale(0.9510 1)" font-size="45.92" class="b">C</text>
</g>
</svg>
</body>
</html>
